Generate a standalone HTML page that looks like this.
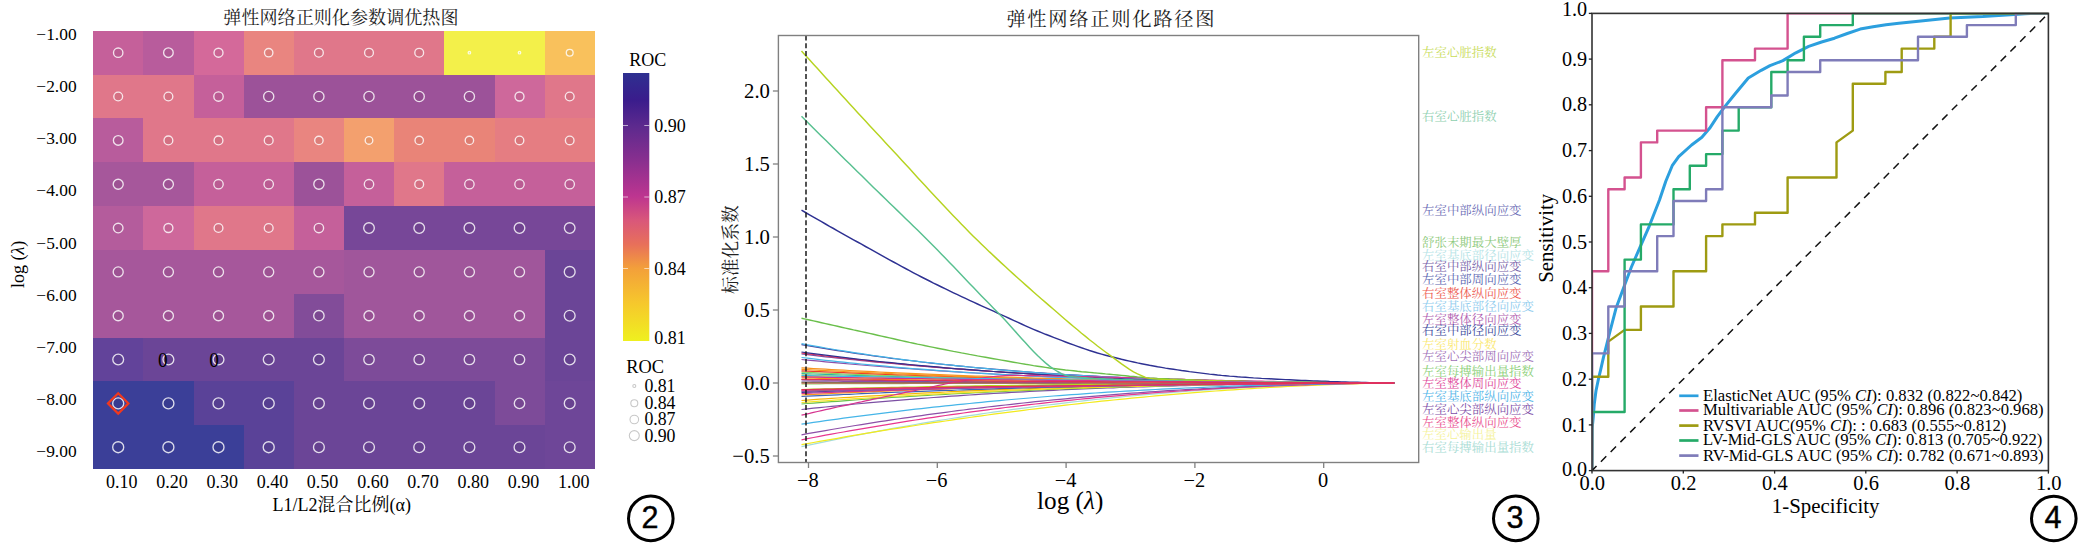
<!DOCTYPE html>
<html lang="zh"><head><meta charset="utf-8"><title>弹性网络正则化</title>
<style>html,body{margin:0;padding:0;background:#fff}svg{display:block}</style></head>
<body><svg width="2079" height="543" viewBox="0 0 2079 543">
<rect width="2079" height="543" fill="#fff"/>
<g shape-rendering="crispEdges">
<rect x="93.30" y="30.80" width="50.77" height="44.43" fill="#c5609a"/>
<rect x="143.47" y="30.80" width="50.77" height="44.43" fill="#b85c9c"/>
<rect x="193.64" y="30.80" width="50.77" height="44.43" fill="#d4699a"/>
<rect x="243.81" y="30.80" width="50.77" height="44.43" fill="#e98580"/>
<rect x="293.98" y="30.80" width="50.77" height="44.43" fill="#e0778a"/>
<rect x="344.15" y="30.80" width="50.77" height="44.43" fill="#e0778a"/>
<rect x="394.32" y="30.80" width="50.77" height="44.43" fill="#e0778a"/>
<rect x="444.49" y="30.80" width="50.77" height="44.43" fill="#f3f04a"/>
<rect x="494.66" y="30.80" width="50.77" height="44.43" fill="#f3f04a"/>
<rect x="544.83" y="30.80" width="50.17" height="44.43" fill="#f9c15c"/>
<rect x="93.30" y="74.63" width="50.77" height="44.43" fill="#e0778a"/>
<rect x="143.47" y="74.63" width="50.77" height="44.43" fill="#e0778a"/>
<rect x="193.64" y="74.63" width="50.77" height="44.43" fill="#c5609a"/>
<rect x="243.81" y="74.63" width="50.77" height="44.43" fill="#9c5299"/>
<rect x="293.98" y="74.63" width="50.77" height="44.43" fill="#9c5299"/>
<rect x="344.15" y="74.63" width="50.77" height="44.43" fill="#9c5299"/>
<rect x="394.32" y="74.63" width="50.77" height="44.43" fill="#9c5299"/>
<rect x="444.49" y="74.63" width="50.77" height="44.43" fill="#9c5299"/>
<rect x="494.66" y="74.63" width="50.77" height="44.43" fill="#ce689b"/>
<rect x="544.83" y="74.63" width="50.17" height="44.43" fill="#e0778a"/>
<rect x="93.30" y="118.46" width="50.77" height="44.43" fill="#b85c9c"/>
<rect x="143.47" y="118.46" width="50.77" height="44.43" fill="#e0778a"/>
<rect x="193.64" y="118.46" width="50.77" height="44.43" fill="#e0778a"/>
<rect x="243.81" y="118.46" width="50.77" height="44.43" fill="#e0778a"/>
<rect x="293.98" y="118.46" width="50.77" height="44.43" fill="#e98580"/>
<rect x="344.15" y="118.46" width="50.77" height="44.43" fill="#f3a06e"/>
<rect x="394.32" y="118.46" width="50.77" height="44.43" fill="#e98478"/>
<rect x="444.49" y="118.46" width="50.77" height="44.43" fill="#e98478"/>
<rect x="494.66" y="118.46" width="50.77" height="44.43" fill="#e57d82"/>
<rect x="544.83" y="118.46" width="50.17" height="44.43" fill="#e57d82"/>
<rect x="93.30" y="162.29" width="50.77" height="44.43" fill="#a6579b"/>
<rect x="143.47" y="162.29" width="50.77" height="44.43" fill="#a6579b"/>
<rect x="193.64" y="162.29" width="50.77" height="44.43" fill="#c5609a"/>
<rect x="243.81" y="162.29" width="50.77" height="44.43" fill="#c5609a"/>
<rect x="293.98" y="162.29" width="50.77" height="44.43" fill="#9c5299"/>
<rect x="344.15" y="162.29" width="50.77" height="44.43" fill="#c5609a"/>
<rect x="394.32" y="162.29" width="50.77" height="44.43" fill="#e0778a"/>
<rect x="444.49" y="162.29" width="50.77" height="44.43" fill="#c5609a"/>
<rect x="494.66" y="162.29" width="50.77" height="44.43" fill="#c5609a"/>
<rect x="544.83" y="162.29" width="50.17" height="44.43" fill="#c5609a"/>
<rect x="93.30" y="206.12" width="50.77" height="44.43" fill="#b45c9c"/>
<rect x="143.47" y="206.12" width="50.77" height="44.43" fill="#ce689b"/>
<rect x="193.64" y="206.12" width="50.77" height="44.43" fill="#e0778a"/>
<rect x="243.81" y="206.12" width="50.77" height="44.43" fill="#e0778a"/>
<rect x="293.98" y="206.12" width="50.77" height="44.43" fill="#c5609a"/>
<rect x="344.15" y="206.12" width="50.77" height="44.43" fill="#774798"/>
<rect x="394.32" y="206.12" width="50.77" height="44.43" fill="#774798"/>
<rect x="444.49" y="206.12" width="50.77" height="44.43" fill="#774798"/>
<rect x="494.66" y="206.12" width="50.77" height="44.43" fill="#774798"/>
<rect x="544.83" y="206.12" width="50.17" height="44.43" fill="#774798"/>
<rect x="93.30" y="249.95" width="50.77" height="44.43" fill="#a6579b"/>
<rect x="143.47" y="249.95" width="50.77" height="44.43" fill="#a6579b"/>
<rect x="193.64" y="249.95" width="50.77" height="44.43" fill="#a6579b"/>
<rect x="243.81" y="249.95" width="50.77" height="44.43" fill="#a6579b"/>
<rect x="293.98" y="249.95" width="50.77" height="44.43" fill="#a6579b"/>
<rect x="344.15" y="249.95" width="50.77" height="44.43" fill="#a0569b"/>
<rect x="394.32" y="249.95" width="50.77" height="44.43" fill="#a0569b"/>
<rect x="444.49" y="249.95" width="50.77" height="44.43" fill="#a0569b"/>
<rect x="494.66" y="249.95" width="50.77" height="44.43" fill="#a0569b"/>
<rect x="544.83" y="249.95" width="50.17" height="44.43" fill="#6b4597"/>
<rect x="93.30" y="293.78" width="50.77" height="44.43" fill="#a6579b"/>
<rect x="143.47" y="293.78" width="50.77" height="44.43" fill="#a6579b"/>
<rect x="193.64" y="293.78" width="50.77" height="44.43" fill="#a6579b"/>
<rect x="243.81" y="293.78" width="50.77" height="44.43" fill="#a6579b"/>
<rect x="293.98" y="293.78" width="50.77" height="44.43" fill="#824c99"/>
<rect x="344.15" y="293.78" width="50.77" height="44.43" fill="#a0569b"/>
<rect x="394.32" y="293.78" width="50.77" height="44.43" fill="#a0569b"/>
<rect x="444.49" y="293.78" width="50.77" height="44.43" fill="#a0569b"/>
<rect x="494.66" y="293.78" width="50.77" height="44.43" fill="#a0569b"/>
<rect x="544.83" y="293.78" width="50.17" height="44.43" fill="#6b4597"/>
<rect x="93.30" y="337.61" width="50.77" height="44.43" fill="#62439a"/>
<rect x="143.47" y="337.61" width="50.77" height="44.43" fill="#6b4597"/>
<rect x="193.64" y="337.61" width="50.77" height="44.43" fill="#6b4597"/>
<rect x="243.81" y="337.61" width="50.77" height="44.43" fill="#6b4597"/>
<rect x="293.98" y="337.61" width="50.77" height="44.43" fill="#6b4597"/>
<rect x="344.15" y="337.61" width="50.77" height="44.43" fill="#7d4b99"/>
<rect x="394.32" y="337.61" width="50.77" height="44.43" fill="#7d4b99"/>
<rect x="444.49" y="337.61" width="50.77" height="44.43" fill="#7d4b99"/>
<rect x="494.66" y="337.61" width="50.77" height="44.43" fill="#7d4b99"/>
<rect x="544.83" y="337.61" width="50.17" height="44.43" fill="#6b4597"/>
<rect x="93.30" y="381.44" width="50.77" height="44.43" fill="#3b3f98"/>
<rect x="143.47" y="381.44" width="50.77" height="44.43" fill="#3b3f98"/>
<rect x="193.64" y="381.44" width="50.77" height="44.43" fill="#5a4298"/>
<rect x="243.81" y="381.44" width="50.77" height="44.43" fill="#5a4298"/>
<rect x="293.98" y="381.44" width="50.77" height="44.43" fill="#6b4597"/>
<rect x="344.15" y="381.44" width="50.77" height="44.43" fill="#6b4597"/>
<rect x="394.32" y="381.44" width="50.77" height="44.43" fill="#6b4597"/>
<rect x="444.49" y="381.44" width="50.77" height="44.43" fill="#6b4597"/>
<rect x="494.66" y="381.44" width="50.77" height="44.43" fill="#7d4b99"/>
<rect x="544.83" y="381.44" width="50.17" height="44.43" fill="#6e4698"/>
<rect x="93.30" y="425.27" width="50.77" height="43.83" fill="#3b3f98"/>
<rect x="143.47" y="425.27" width="50.77" height="43.83" fill="#3b3f98"/>
<rect x="193.64" y="425.27" width="50.77" height="43.83" fill="#3b3f98"/>
<rect x="243.81" y="425.27" width="50.77" height="43.83" fill="#5a4298"/>
<rect x="293.98" y="425.27" width="50.77" height="43.83" fill="#6b4597"/>
<rect x="344.15" y="425.27" width="50.77" height="43.83" fill="#6b4597"/>
<rect x="394.32" y="425.27" width="50.77" height="43.83" fill="#6b4597"/>
<rect x="444.49" y="425.27" width="50.77" height="43.83" fill="#6b4597"/>
<rect x="494.66" y="425.27" width="50.77" height="43.83" fill="#6b4597"/>
<rect x="544.83" y="425.27" width="50.17" height="43.83" fill="#6e4698"/>
</g>
<g fill="#000" fill-opacity="0.05" stroke="#fff" stroke-opacity="0.82" stroke-width="1.35">
<circle cx="118.2" cy="52.7" r="4.7"/>
<circle cx="168.4" cy="52.7" r="4.8"/>
<circle cx="218.5" cy="52.7" r="4.5"/>
<circle cx="268.7" cy="52.7" r="4.2"/>
<circle cx="318.9" cy="52.7" r="4.4"/>
<circle cx="369.0" cy="52.7" r="4.4"/>
<circle cx="419.2" cy="52.7" r="4.4"/>
<circle cx="469.4" cy="52.7" r="1.2"/>
<circle cx="519.5" cy="52.7" r="1.2"/>
<circle cx="569.7" cy="52.7" r="3.4"/>
<circle cx="118.2" cy="96.5" r="4.4"/>
<circle cx="168.4" cy="96.5" r="4.4"/>
<circle cx="218.5" cy="96.5" r="4.7"/>
<circle cx="268.7" cy="96.5" r="5.1"/>
<circle cx="318.9" cy="96.5" r="5.1"/>
<circle cx="369.0" cy="96.5" r="5.1"/>
<circle cx="419.2" cy="96.5" r="5.1"/>
<circle cx="469.4" cy="96.5" r="5.1"/>
<circle cx="519.5" cy="96.5" r="4.5"/>
<circle cx="569.7" cy="96.5" r="4.4"/>
<circle cx="118.2" cy="140.4" r="4.8"/>
<circle cx="168.4" cy="140.4" r="4.4"/>
<circle cx="218.5" cy="140.4" r="4.4"/>
<circle cx="268.7" cy="140.4" r="4.4"/>
<circle cx="318.9" cy="140.4" r="4.2"/>
<circle cx="369.0" cy="140.4" r="3.8"/>
<circle cx="419.2" cy="140.4" r="4.2"/>
<circle cx="469.4" cy="140.4" r="4.2"/>
<circle cx="519.5" cy="140.4" r="4.3"/>
<circle cx="569.7" cy="140.4" r="4.3"/>
<circle cx="118.2" cy="184.2" r="5.0"/>
<circle cx="168.4" cy="184.2" r="5.0"/>
<circle cx="218.5" cy="184.2" r="4.7"/>
<circle cx="268.7" cy="184.2" r="4.7"/>
<circle cx="318.9" cy="184.2" r="5.1"/>
<circle cx="369.0" cy="184.2" r="4.7"/>
<circle cx="419.2" cy="184.2" r="4.4"/>
<circle cx="469.4" cy="184.2" r="4.7"/>
<circle cx="519.5" cy="184.2" r="4.7"/>
<circle cx="569.7" cy="184.2" r="4.7"/>
<circle cx="118.2" cy="228.0" r="4.8"/>
<circle cx="168.4" cy="228.0" r="4.5"/>
<circle cx="218.5" cy="228.0" r="4.4"/>
<circle cx="268.7" cy="228.0" r="4.4"/>
<circle cx="318.9" cy="228.0" r="4.7"/>
<circle cx="369.0" cy="228.0" r="5.3"/>
<circle cx="419.2" cy="228.0" r="5.3"/>
<circle cx="469.4" cy="228.0" r="5.3"/>
<circle cx="519.5" cy="228.0" r="5.3"/>
<circle cx="569.7" cy="228.0" r="5.3"/>
<circle cx="118.2" cy="271.9" r="5.0"/>
<circle cx="168.4" cy="271.9" r="5.0"/>
<circle cx="218.5" cy="271.9" r="5.0"/>
<circle cx="268.7" cy="271.9" r="5.0"/>
<circle cx="318.9" cy="271.9" r="5.0"/>
<circle cx="369.0" cy="271.9" r="5.0"/>
<circle cx="419.2" cy="271.9" r="5.0"/>
<circle cx="469.4" cy="271.9" r="5.0"/>
<circle cx="519.5" cy="271.9" r="5.0"/>
<circle cx="569.7" cy="271.9" r="5.4"/>
<circle cx="118.2" cy="315.7" r="5.0"/>
<circle cx="168.4" cy="315.7" r="5.0"/>
<circle cx="218.5" cy="315.7" r="5.0"/>
<circle cx="268.7" cy="315.7" r="5.0"/>
<circle cx="318.9" cy="315.7" r="5.2"/>
<circle cx="369.0" cy="315.7" r="5.0"/>
<circle cx="419.2" cy="315.7" r="5.0"/>
<circle cx="469.4" cy="315.7" r="5.0"/>
<circle cx="519.5" cy="315.7" r="5.0"/>
<circle cx="569.7" cy="315.7" r="5.4"/>
<circle cx="118.2" cy="359.5" r="5.4"/>
<circle cx="168.4" cy="359.5" r="5.4"/>
<circle cx="218.5" cy="359.5" r="5.4"/>
<circle cx="268.7" cy="359.5" r="5.4"/>
<circle cx="318.9" cy="359.5" r="5.4"/>
<circle cx="369.0" cy="359.5" r="5.2"/>
<circle cx="419.2" cy="359.5" r="5.2"/>
<circle cx="469.4" cy="359.5" r="5.2"/>
<circle cx="519.5" cy="359.5" r="5.2"/>
<circle cx="569.7" cy="359.5" r="5.4"/>
<circle cx="118.2" cy="403.4" r="5.5"/>
<circle cx="168.4" cy="403.4" r="5.5"/>
<circle cx="218.5" cy="403.4" r="5.5"/>
<circle cx="268.7" cy="403.4" r="5.5"/>
<circle cx="318.9" cy="403.4" r="5.4"/>
<circle cx="369.0" cy="403.4" r="5.4"/>
<circle cx="419.2" cy="403.4" r="5.4"/>
<circle cx="469.4" cy="403.4" r="5.4"/>
<circle cx="519.5" cy="403.4" r="5.2"/>
<circle cx="569.7" cy="403.4" r="5.4"/>
<circle cx="118.2" cy="447.2" r="5.5"/>
<circle cx="168.4" cy="447.2" r="5.5"/>
<circle cx="218.5" cy="447.2" r="5.5"/>
<circle cx="268.7" cy="447.2" r="5.5"/>
<circle cx="318.9" cy="447.2" r="5.4"/>
<circle cx="369.0" cy="447.2" r="5.4"/>
<circle cx="419.2" cy="447.2" r="5.4"/>
<circle cx="469.4" cy="447.2" r="5.4"/>
<circle cx="519.5" cy="447.2" r="5.4"/>
<circle cx="569.7" cy="447.2" r="5.4"/>
</g>
<text x="162.8" y="366.5" font-family='"Liberation Serif", "Noto Serif CJK SC", serif' font-size="21" text-anchor="middle" textLength="9.6" lengthAdjust="spacingAndGlyphs">0</text>
<text x="214.1" y="366.5" font-family='"Liberation Serif", "Noto Serif CJK SC", serif' font-size="21" text-anchor="middle" textLength="9.6" lengthAdjust="spacingAndGlyphs">0</text>
<path d="M108.0 403.4 L118.2 393.2 L128.4 403.4 L118.2 413.6 Z" fill="none" stroke="#f0381e" stroke-width="2.2"/>
<g font-family='"Liberation Serif", "Noto Serif CJK SC", serif' fill="#000">
<text x="340.9" y="23.6" font-size="18.1" text-anchor="middle" fill="#222">弹性网络正则化参数调优热图</text>
<text x="76.6" y="40.2" font-size="17.4" text-anchor="end">−1.00</text>
<text x="76.6" y="92.3" font-size="17.4" text-anchor="end">−2.00</text>
<text x="76.6" y="144.4" font-size="17.4" text-anchor="end">−3.00</text>
<text x="76.6" y="196.4" font-size="17.4" text-anchor="end">−4.00</text>
<text x="76.6" y="248.5" font-size="17.4" text-anchor="end">−5.00</text>
<text x="76.6" y="300.6" font-size="17.4" text-anchor="end">−6.00</text>
<text x="76.6" y="352.7" font-size="17.4" text-anchor="end">−7.00</text>
<text x="76.6" y="404.8" font-size="17.4" text-anchor="end">−8.00</text>
<text x="76.6" y="456.8" font-size="17.4" text-anchor="end">−9.00</text>
<text x="121.7" y="488.3" font-size="18" text-anchor="middle">0.10</text>
<text x="171.9" y="488.3" font-size="18" text-anchor="middle">0.20</text>
<text x="222.2" y="488.3" font-size="18" text-anchor="middle">0.30</text>
<text x="272.4" y="488.3" font-size="18" text-anchor="middle">0.40</text>
<text x="322.6" y="488.3" font-size="18" text-anchor="middle">0.50</text>
<text x="372.9" y="488.3" font-size="18" text-anchor="middle">0.60</text>
<text x="423.1" y="488.3" font-size="18" text-anchor="middle">0.70</text>
<text x="473.3" y="488.3" font-size="18" text-anchor="middle">0.80</text>
<text x="523.6" y="488.3" font-size="18" text-anchor="middle">0.90</text>
<text x="573.8" y="488.3" font-size="18" text-anchor="middle">1.00</text>
<text x="341.8" y="510.5" font-size="18" text-anchor="middle">L1/L2混合比例(α)</text>
<text transform="translate(24.3 264.4) rotate(-90)" font-size="18" text-anchor="middle">log (<tspan font-style="italic">λ</tspan>)</text>
<text x="629.3" y="66" font-size="18">ROC</text>
<text x="654.3" y="131.5" font-size="18">0.90</text>
<text x="654.3" y="203.0" font-size="18">0.87</text>
<text x="654.3" y="274.5" font-size="18">0.84</text>
<text x="654.3" y="343.5" font-size="18">0.81</text>
<text x="626.2" y="373" font-size="18.4">ROC</text>
<text x="644.4" y="392.0" font-size="17.8">0.81</text>
<text x="644.4" y="409.0" font-size="17.8">0.84</text>
<text x="644.4" y="425.3" font-size="17.8">0.87</text>
<text x="644.4" y="441.5" font-size="17.8">0.90</text>
</g>
<defs><linearGradient id="cb" x1="0" y1="0" x2="0" y2="1">
<stop offset="0" stop-color="#2e3090"/>
<stop offset="0.10" stop-color="#3a1c8c"/>
<stop offset="0.20" stop-color="#5d2a8e"/>
<stop offset="0.33" stop-color="#8a2f8f"/>
<stop offset="0.46" stop-color="#bd3590"/>
<stop offset="0.55" stop-color="#d9577a"/>
<stop offset="0.64" stop-color="#e8705a"/>
<stop offset="0.73" stop-color="#f3a03a"/>
<stop offset="0.86" stop-color="#f6c82c"/>
<stop offset="1" stop-color="#eff01f"/>
</linearGradient></defs>
<rect x="623" y="73" width="26.3" height="268" fill="url(#cb)"/>
<g stroke="#fff" stroke-opacity="0.6" stroke-width="1">
<path d="M623 125.5h5M644.3 125.5h5"/>
<path d="M623 197h5M644.3 197h5"/>
<path d="M623 268.5h5M644.3 268.5h5"/>
</g>
<g fill="none" stroke="#c8c8c8" stroke-width="1.1">
<circle cx="634.3" cy="386" r="1.5"/>
<circle cx="634.3" cy="403.3" r="3.5"/>
<circle cx="634.3" cy="419.5" r="4.3"/>
<circle cx="634.3" cy="435.6" r="5.0"/>
</g>
<circle cx="650.8" cy="518.4" r="22.3" fill="#fff" stroke="#000" stroke-width="3"/>
<text x="649.9" y="528.0" font-family='"Liberation Sans", sans-serif' font-size="30.6" text-anchor="middle" fill="#000" stroke="#000" stroke-width="0.4">2</text>
<circle cx="1515.8" cy="518.4" r="22.3" fill="#fff" stroke="#000" stroke-width="3"/>
<text x="1514.9" y="528.0" font-family='"Liberation Sans", sans-serif' font-size="30.6" text-anchor="middle" fill="#000" stroke="#000" stroke-width="0.4">3</text>
<circle cx="2053.8" cy="518.5" r="22.3" fill="#fff" stroke="#000" stroke-width="3"/>
<text x="2052.9" y="528.1" font-family='"Liberation Sans", sans-serif' font-size="30.6" text-anchor="middle" fill="#000" stroke="#000" stroke-width="0.4">4</text>
<g fill="none" stroke-width="1.2" stroke-linejoin="round">
<path d="M801.5 446.7 L807.5 445.4 L813.5 444.1 L819.5 442.9 L825.5 441.6 L831.5 440.4 L837.5 439.1 L843.5 437.9 L849.5 436.7 L855.5 435.5 L861.5 434.4 L867.5 433.2 L873.5 432.1 L879.5 430.9 L885.5 429.8 L891.5 428.7 L897.5 427.6 L903.5 426.6 L909.5 425.5 L915.5 424.5 L921.5 423.4 L927.5 422.4 L933.5 421.4 L939.5 420.4 L945.5 419.5 L951.5 418.5 L957.5 417.6 L963.5 416.6 L969.5 415.7 L975.5 414.8 L981.5 413.9 L987.5 413.0 L993.5 412.2 L999.5 411.3 L1005.5 410.5 L1011.5 409.7 L1017.5 408.9 L1023.5 408.1 L1029.5 407.3 L1035.5 406.5 L1041.5 405.7 L1047.5 405.0 L1053.5 404.3 L1059.5 403.6 L1065.5 402.9 L1071.5 402.2 L1077.5 401.5 L1083.5 400.8 L1089.5 400.2 L1095.5 399.5 L1101.5 398.9 L1107.5 398.3 L1113.5 397.7 L1119.5 397.1 L1125.5 396.5 L1131.5 396.0 L1137.5 395.4 L1143.5 394.9 L1149.5 394.4 L1155.5 393.8 L1161.5 393.4 L1167.5 392.9 L1173.5 392.4 L1179.5 391.9 L1185.5 391.5 L1191.5 391.0 L1197.5 390.6 L1203.5 390.2 L1209.5 389.8 L1215.5 389.4 L1221.5 389.0 L1227.5 388.7 L1233.5 388.3 L1239.5 388.0 L1245.5 387.7 L1251.5 387.3 L1257.5 387.0 L1263.5 386.7 L1269.5 386.5 L1275.5 386.2 L1281.5 385.9 L1287.5 385.7 L1293.5 385.4 L1299.5 385.2 L1305.5 385.0 L1311.5 384.8 L1317.5 384.6 L1323.5 384.4 L1329.5 384.3 L1335.5 384.1 L1341.5 383.9 L1347.5 383.8 L1353.5 383.7 L1359.5 383.5 L1365.5 383.4 L1371.5 383.3 L1377.5 383.2 L1383.5 383.1 L1389.5 383.1 L1394.3 383.0" stroke="#a5dcd8"/>
<path d="M801.5 444.7 L807.5 443.6 L813.5 442.5 L819.5 441.4 L825.5 440.4 L831.5 439.3 L837.5 438.3 L843.5 437.2 L849.5 436.2 L855.5 435.2 L861.5 434.2 L867.5 433.2 L873.5 432.2 L879.5 431.2 L885.5 430.2 L891.5 429.2 L897.5 428.3 L903.5 427.3 L909.5 426.4 L915.5 425.5 L921.5 424.5 L927.5 423.6 L933.5 422.7 L939.5 421.8 L945.5 421.0 L951.5 420.1 L957.5 419.2 L963.5 418.4 L969.5 417.5 L975.5 416.7 L981.5 415.8 L987.5 415.0 L993.5 414.2 L999.5 413.4 L1005.5 412.6 L1011.5 411.8 L1017.5 411.1 L1023.5 410.3 L1029.5 409.5 L1035.5 408.8 L1041.5 408.1 L1047.5 407.3 L1053.5 406.6 L1059.5 405.9 L1065.5 405.2 L1071.5 404.5 L1077.5 403.9 L1083.5 403.2 L1089.5 402.5 L1095.5 401.9 L1101.5 401.2 L1107.5 400.6 L1113.5 400.0 L1119.5 399.4 L1125.5 398.8 L1131.5 398.2 L1137.5 397.6 L1143.5 397.1 L1149.5 396.5 L1155.5 395.9 L1161.5 395.4 L1167.5 394.9 L1173.5 394.4 L1179.5 393.9 L1185.5 393.4 L1191.5 392.9 L1197.5 392.4 L1203.5 391.9 L1209.5 391.5 L1215.5 391.0 L1221.5 390.6 L1227.5 390.2 L1233.5 389.8 L1239.5 389.4 L1245.5 389.0 L1251.5 388.6 L1257.5 388.2 L1263.5 387.9 L1269.5 387.5 L1275.5 387.2 L1281.5 386.8 L1287.5 386.5 L1293.5 386.2 L1299.5 385.9 L1305.5 385.7 L1311.5 385.4 L1317.5 385.1 L1323.5 384.9 L1329.5 384.7 L1335.5 384.4 L1341.5 384.2 L1347.5 384.0 L1353.5 383.9 L1359.5 383.7 L1365.5 383.5 L1371.5 383.4 L1377.5 383.3 L1383.5 383.2 L1389.5 383.1 L1394.3 383.0" stroke="#f2ea1d"/>
<path d="M801.5 439.8 L807.5 438.6 L813.5 437.5 L819.5 436.4 L825.5 435.2 L831.5 434.1 L837.5 433.0 L843.5 432.0 L849.5 430.9 L855.5 429.8 L861.5 428.8 L867.5 427.8 L873.5 426.8 L879.5 425.8 L885.5 424.8 L891.5 423.8 L897.5 422.8 L903.5 421.9 L909.5 420.9 L915.5 420.0 L921.5 419.1 L927.5 418.2 L933.5 417.3 L939.5 416.4 L945.5 415.5 L951.5 414.7 L957.5 413.8 L963.5 413.0 L969.5 412.2 L975.5 411.4 L981.5 410.6 L987.5 409.8 L993.5 409.0 L999.5 408.3 L1005.5 407.5 L1011.5 406.8 L1017.5 406.1 L1023.5 405.3 L1029.5 404.6 L1035.5 404.0 L1041.5 403.3 L1047.5 402.6 L1053.5 402.0 L1059.5 401.3 L1065.5 400.7 L1071.5 400.1 L1077.5 399.5 L1083.5 398.9 L1089.5 398.3 L1095.5 397.7 L1101.5 397.2 L1107.5 396.6 L1113.5 396.1 L1119.5 395.6 L1125.5 395.1 L1131.5 394.6 L1137.5 394.1 L1143.5 393.6 L1149.5 393.1 L1155.5 392.7 L1161.5 392.2 L1167.5 391.8 L1173.5 391.4 L1179.5 391.0 L1185.5 390.6 L1191.5 390.2 L1197.5 389.8 L1203.5 389.4 L1209.5 389.1 L1215.5 388.7 L1221.5 388.4 L1227.5 388.1 L1233.5 387.8 L1239.5 387.4 L1245.5 387.2 L1251.5 386.9 L1257.5 386.6 L1263.5 386.3 L1269.5 386.1 L1275.5 385.8 L1281.5 385.6 L1287.5 385.4 L1293.5 385.2 L1299.5 385.0 L1305.5 384.8 L1311.5 384.6 L1317.5 384.4 L1323.5 384.3 L1329.5 384.1 L1335.5 384.0 L1341.5 383.8 L1347.5 383.7 L1353.5 383.6 L1359.5 383.5 L1365.5 383.4 L1371.5 383.3 L1377.5 383.2 L1383.5 383.1 L1389.5 383.1 L1394.3 383.0" stroke="#e8368f"/>
<path d="M801.5 434.8 L807.5 433.7 L813.5 432.7 L819.5 431.6 L825.5 430.6 L831.5 429.5 L837.5 428.5 L843.5 427.5 L849.5 426.5 L855.5 425.5 L861.5 424.6 L867.5 423.6 L873.5 422.7 L879.5 421.7 L885.5 420.8 L891.5 419.9 L897.5 419.0 L903.5 418.1 L909.5 417.3 L915.5 416.4 L921.5 415.6 L927.5 414.7 L933.5 413.9 L939.5 413.1 L945.5 412.3 L951.5 411.5 L957.5 410.7 L963.5 410.0 L969.5 409.2 L975.5 408.5 L981.5 407.8 L987.5 407.0 L993.5 406.3 L999.5 405.6 L1005.5 405.0 L1011.5 404.3 L1017.5 403.6 L1023.5 403.0 L1029.5 402.3 L1035.5 401.7 L1041.5 401.1 L1047.5 400.5 L1053.5 399.9 L1059.5 399.3 L1065.5 398.8 L1071.5 398.2 L1077.5 397.7 L1083.5 397.1 L1089.5 396.6 L1095.5 396.1 L1101.5 395.6 L1107.5 395.1 L1113.5 394.6 L1119.5 394.1 L1125.5 393.7 L1131.5 393.2 L1137.5 392.8 L1143.5 392.4 L1149.5 391.9 L1155.5 391.5 L1161.5 391.1 L1167.5 390.7 L1173.5 390.4 L1179.5 390.0 L1185.5 389.6 L1191.5 389.3 L1197.5 389.0 L1203.5 388.6 L1209.5 388.3 L1215.5 388.0 L1221.5 387.7 L1227.5 387.4 L1233.5 387.2 L1239.5 386.9 L1245.5 386.6 L1251.5 386.4 L1257.5 386.1 L1263.5 385.9 L1269.5 385.7 L1275.5 385.5 L1281.5 385.3 L1287.5 385.1 L1293.5 384.9 L1299.5 384.7 L1305.5 384.6 L1311.5 384.4 L1317.5 384.3 L1323.5 384.1 L1329.5 384.0 L1335.5 383.9 L1341.5 383.7 L1347.5 383.6 L1353.5 383.5 L1359.5 383.4 L1365.5 383.3 L1371.5 383.3 L1377.5 383.2 L1383.5 383.1 L1389.5 383.0 L1394.3 383.0" stroke="#8d4fa8"/>
<path d="M801.5 424.2 L807.5 423.3 L813.5 422.4 L819.5 421.6 L825.5 420.7 L831.5 419.9 L837.5 419.1 L843.5 418.2 L849.5 417.4 L855.5 416.6 L861.5 415.9 L867.5 415.1 L873.5 414.3 L879.5 413.6 L885.5 412.8 L891.5 412.1 L897.5 411.4 L903.5 410.6 L909.5 409.9 L915.5 409.2 L921.5 408.6 L927.5 407.9 L933.5 407.2 L939.5 406.6 L945.5 405.9 L951.5 405.3 L957.5 404.7 L963.5 404.1 L969.5 403.5 L975.5 402.9 L981.5 402.3 L987.5 401.7 L993.5 401.1 L999.5 400.6 L1005.5 400.0 L1011.5 399.5 L1017.5 399.0 L1023.5 398.5 L1029.5 398.0 L1035.5 397.5 L1041.5 397.0 L1047.5 396.5 L1053.5 396.0 L1059.5 395.6 L1065.5 395.1 L1071.5 394.7 L1077.5 394.3 L1083.5 393.8 L1089.5 393.4 L1095.5 393.0 L1101.5 392.6 L1107.5 392.2 L1113.5 391.9 L1119.5 391.5 L1125.5 391.1 L1131.5 390.8 L1137.5 390.5 L1143.5 390.1 L1149.5 389.8 L1155.5 389.5 L1161.5 389.2 L1167.5 388.9 L1173.5 388.6 L1179.5 388.3 L1185.5 388.0 L1191.5 387.8 L1197.5 387.5 L1203.5 387.3 L1209.5 387.0 L1215.5 386.8 L1221.5 386.6 L1227.5 386.3 L1233.5 386.1 L1239.5 385.9 L1245.5 385.7 L1251.5 385.5 L1257.5 385.4 L1263.5 385.2 L1269.5 385.0 L1275.5 384.9 L1281.5 384.7 L1287.5 384.6 L1293.5 384.4 L1299.5 384.3 L1305.5 384.2 L1311.5 384.1 L1317.5 383.9 L1323.5 383.8 L1329.5 383.7 L1335.5 383.6 L1341.5 383.6 L1347.5 383.5 L1353.5 383.4 L1359.5 383.3 L1365.5 383.3 L1371.5 383.2 L1377.5 383.1 L1383.5 383.1 L1389.5 383.0 L1394.3 383.0" stroke="#45b5e8"/>
<path d="M801.5 409.5 L807.5 408.9 L813.5 408.2 L819.5 407.6 L825.5 407.0 L831.5 406.4 L837.5 405.8 L843.5 405.2 L849.5 404.6 L855.5 404.0 L861.5 403.5 L867.5 402.9 L873.5 402.4 L879.5 401.9 L885.5 401.4 L891.5 400.8 L897.5 400.3 L903.5 399.8 L909.5 399.4 L915.5 398.9 L921.5 398.4 L927.5 398.0 L933.5 397.5 L939.5 397.1 L945.5 396.6 L951.5 396.2 L957.5 395.8 L963.5 395.4 L969.5 395.0 L975.5 394.6 L981.5 394.2 L987.5 393.9 L993.5 393.5 L999.5 393.1 L1005.5 392.8 L1011.5 392.4 L1017.5 392.1 L1023.5 391.8 L1029.5 391.5 L1035.5 391.2 L1041.5 390.9 L1047.5 390.6 L1053.5 390.3 L1059.5 390.0 L1065.5 389.7 L1071.5 389.4 L1077.5 389.2 L1083.5 388.9 L1089.5 388.7 L1095.5 388.4 L1101.5 388.2 L1107.5 388.0 L1113.5 387.8 L1119.5 387.5 L1125.5 387.3 L1131.5 387.1 L1137.5 386.9 L1143.5 386.8 L1149.5 386.6 L1155.5 386.4 L1161.5 386.2 L1167.5 386.1 L1173.5 385.9 L1179.5 385.7 L1185.5 385.6 L1191.5 385.4 L1197.5 385.3 L1203.5 385.2 L1209.5 385.0 L1215.5 384.9 L1221.5 384.8 L1227.5 384.7 L1233.5 384.6 L1239.5 384.5 L1245.5 384.4 L1251.5 384.3 L1257.5 384.2 L1263.5 384.1 L1269.5 384.0 L1275.5 383.9 L1281.5 383.9 L1287.5 383.8 L1293.5 383.7 L1299.5 383.7 L1305.5 383.6 L1311.5 383.5 L1317.5 383.5 L1323.5 383.4 L1329.5 383.4 L1335.5 383.3 L1341.5 383.3 L1347.5 383.3 L1353.5 383.2 L1359.5 383.2 L1365.5 383.2 L1371.5 383.1 L1377.5 383.1 L1383.5 383.1 L1389.5 383.0 L1394.3 383.0" stroke="#7c4fa3"/>
<path d="M801.5 404.0 L807.5 403.5 L813.5 403.1 L819.5 402.6 L825.5 402.1 L831.5 401.7 L837.5 401.3 L843.5 400.8 L849.5 400.4 L855.5 400.0 L861.5 399.5 L867.5 399.1 L873.5 398.7 L879.5 398.3 L885.5 397.9 L891.5 397.5 L897.5 397.2 L903.5 396.8 L909.5 396.4 L915.5 396.1 L921.5 395.7 L927.5 395.4 L933.5 395.0 L939.5 394.7 L945.5 394.3 L951.5 394.0 L957.5 393.7 L963.5 393.4 L969.5 393.1 L975.5 392.7 L981.5 392.5 L987.5 392.2 L993.5 391.9 L999.5 391.6 L1005.5 391.3 L1011.5 391.0 L1017.5 390.8 L1023.5 390.5 L1029.5 390.3 L1035.5 390.0 L1041.5 389.8 L1047.5 389.5 L1053.5 389.3 L1059.5 389.0 L1065.5 388.8 L1071.5 388.6 L1077.5 388.4 L1083.5 388.2 L1089.5 388.0 L1095.5 387.8 L1101.5 387.6 L1107.5 387.4 L1113.5 387.2 L1119.5 387.0 L1125.5 386.8 L1131.5 386.7 L1137.5 386.5 L1143.5 386.3 L1149.5 386.2 L1155.5 386.0 L1161.5 385.9 L1167.5 385.7 L1173.5 385.6 L1179.5 385.5 L1185.5 385.3 L1191.5 385.2 L1197.5 385.1 L1203.5 385.0 L1209.5 384.9 L1215.5 384.7 L1221.5 384.6 L1227.5 384.5 L1233.5 384.4 L1239.5 384.3 L1245.5 384.3 L1251.5 384.2 L1257.5 384.1 L1263.5 384.0 L1269.5 383.9 L1275.5 383.9 L1281.5 383.8 L1287.5 383.7 L1293.5 383.7 L1299.5 383.6 L1305.5 383.5 L1311.5 383.5 L1317.5 383.4 L1323.5 383.4 L1329.5 383.3 L1335.5 383.3 L1341.5 383.3 L1347.5 383.2 L1353.5 383.2 L1359.5 383.2 L1365.5 383.1 L1371.5 383.1 L1377.5 383.1 L1383.5 383.0 L1389.5 383.0 L1394.3 383.0" stroke="#6abf4b"/>
<path d="M801.5 402.5 L807.5 402.1 L813.5 401.6 L819.5 401.2 L825.5 400.8 L831.5 400.4 L837.5 399.9 L843.5 399.5 L849.5 399.1 L855.5 398.7 L861.5 398.4 L867.5 398.0 L873.5 397.6 L879.5 397.2 L885.5 396.9 L891.5 396.5 L897.5 396.2 L903.5 395.8 L909.5 395.5 L915.5 395.1 L921.5 394.8 L927.5 394.5 L933.5 394.1 L939.5 393.8 L945.5 393.5 L951.5 393.2 L957.5 392.9 L963.5 392.6 L969.5 392.3 L975.5 392.1 L981.5 391.8 L987.5 391.5 L993.5 391.2 L999.5 391.0 L1005.5 390.7 L1011.5 390.5 L1017.5 390.2 L1023.5 390.0 L1029.5 389.7 L1035.5 389.5 L1041.5 389.3 L1047.5 389.0 L1053.5 388.8 L1059.5 388.6 L1065.5 388.4 L1071.5 388.2 L1077.5 388.0 L1083.5 387.8 L1089.5 387.6 L1095.5 387.4 L1101.5 387.3 L1107.5 387.1 L1113.5 386.9 L1119.5 386.7 L1125.5 386.6 L1131.5 386.4 L1137.5 386.3 L1143.5 386.1 L1149.5 386.0 L1155.5 385.8 L1161.5 385.7 L1167.5 385.6 L1173.5 385.4 L1179.5 385.3 L1185.5 385.2 L1191.5 385.1 L1197.5 384.9 L1203.5 384.8 L1209.5 384.7 L1215.5 384.6 L1221.5 384.5 L1227.5 384.4 L1233.5 384.3 L1239.5 384.3 L1245.5 384.2 L1251.5 384.1 L1257.5 384.0 L1263.5 383.9 L1269.5 383.9 L1275.5 383.8 L1281.5 383.7 L1287.5 383.7 L1293.5 383.6 L1299.5 383.6 L1305.5 383.5 L1311.5 383.5 L1317.5 383.4 L1323.5 383.4 L1329.5 383.3 L1335.5 383.3 L1341.5 383.2 L1347.5 383.2 L1353.5 383.2 L1359.5 383.1 L1365.5 383.1 L1371.5 383.1 L1377.5 383.1 L1383.5 383.0 L1389.5 383.0 L1394.3 383.0" stroke="#f4e628"/>
<path d="M801.5 400.5 L807.5 400.1 L813.5 399.7 L819.5 399.2 L825.5 398.8 L831.5 398.4 L837.5 398.0 L843.5 397.7 L849.5 397.3 L855.5 396.9 L861.5 396.5 L867.5 396.2 L873.5 395.8 L879.5 395.5 L885.5 395.1 L891.5 394.8 L897.5 394.5 L903.5 394.1 L909.5 393.8 L915.5 393.5 L921.5 393.2 L927.5 392.9 L933.5 392.6 L939.5 392.3 L945.5 392.0 L951.5 391.7 L957.5 391.5 L963.5 391.2 L969.5 390.9 L975.5 390.7 L981.5 390.4 L987.5 390.2 L993.5 389.9 L999.5 389.7 L1005.5 389.5 L1011.5 389.2 L1017.5 389.0 L1023.5 388.8 L1029.5 388.6 L1035.5 388.4 L1041.5 388.2 L1047.5 388.0 L1053.5 387.8 L1059.5 387.6 L1065.5 387.4 L1071.5 387.3 L1077.5 387.1 L1083.5 386.9 L1089.5 386.8 L1095.5 386.6 L1101.5 386.4 L1107.5 386.3 L1113.5 386.1 L1119.5 386.0 L1125.5 385.9 L1131.5 385.7 L1137.5 385.6 L1143.5 385.5 L1149.5 385.4 L1155.5 385.2 L1161.5 385.1 L1167.5 385.0 L1173.5 384.9 L1179.5 384.8 L1185.5 384.7 L1191.5 384.6 L1197.5 384.5 L1203.5 384.4 L1209.5 384.4 L1215.5 384.3 L1221.5 384.2 L1227.5 384.1 L1233.5 384.0 L1239.5 384.0 L1245.5 383.9 L1251.5 383.8 L1257.5 383.8 L1263.5 383.7 L1269.5 383.7 L1275.5 383.6 L1281.5 383.6 L1287.5 383.5 L1293.5 383.5 L1299.5 383.4 L1305.5 383.4 L1311.5 383.4 L1317.5 383.3 L1323.5 383.3 L1329.5 383.3 L1335.5 383.2 L1341.5 383.2 L1347.5 383.2 L1353.5 383.1 L1359.5 383.1 L1365.5 383.1 L1371.5 383.1 L1377.5 383.1 L1383.5 383.0 L1389.5 383.0 L1394.3 383.0" stroke="#f7b500"/>
<path d="M801.5 396.5 L807.5 396.2 L813.5 395.9 L819.5 395.6 L825.5 395.4 L831.5 395.1 L837.5 394.8 L843.5 394.5 L849.5 394.3 L855.5 394.0 L861.5 393.7 L867.5 393.5 L873.5 393.2 L879.5 393.0 L885.5 392.7 L891.5 392.5 L897.5 392.2 L903.5 392.0 L909.5 391.8 L915.5 391.6 L921.5 391.3 L927.5 391.1 L933.5 390.9 L939.5 390.7 L945.5 390.5 L951.5 390.3 L957.5 390.0 L963.5 389.8 L969.5 389.6 L975.5 389.5 L981.5 389.3 L987.5 389.1 L993.5 388.9 L999.5 388.7 L1005.5 388.5 L1011.5 388.4 L1017.5 388.2 L1023.5 388.0 L1029.5 387.8 L1035.5 387.7 L1041.5 387.5 L1047.5 387.4 L1053.5 387.2 L1059.5 387.1 L1065.5 386.9 L1071.5 386.8 L1077.5 386.6 L1083.5 386.5 L1089.5 386.4 L1095.5 386.2 L1101.5 386.1 L1107.5 386.0 L1113.5 385.9 L1119.5 385.7 L1125.5 385.6 L1131.5 385.5 L1137.5 385.4 L1143.5 385.3 L1149.5 385.2 L1155.5 385.1 L1161.5 385.0 L1167.5 384.9 L1173.5 384.8 L1179.5 384.7 L1185.5 384.6 L1191.5 384.5 L1197.5 384.4 L1203.5 384.4 L1209.5 384.3 L1215.5 384.2 L1221.5 384.1 L1227.5 384.1 L1233.5 384.0 L1239.5 383.9 L1245.5 383.9 L1251.5 383.8 L1257.5 383.8 L1263.5 383.7 L1269.5 383.6 L1275.5 383.6 L1281.5 383.5 L1287.5 383.5 L1293.5 383.5 L1299.5 383.4 L1305.5 383.4 L1311.5 383.3 L1317.5 383.3 L1323.5 383.3 L1329.5 383.2 L1335.5 383.2 L1341.5 383.2 L1347.5 383.2 L1353.5 383.1 L1359.5 383.1 L1365.5 383.1 L1371.5 383.1 L1377.5 383.0 L1383.5 383.0 L1389.5 383.0 L1394.3 383.0" stroke="#3b66b5"/>
<path d="M801.5 395.0 L807.5 394.7 L813.5 394.4 L819.5 394.1 L825.5 393.8 L831.5 393.5 L837.5 393.2 L843.5 392.9 L849.5 392.6 L855.5 392.4 L861.5 392.1 L867.5 391.8 L873.5 391.6 L879.5 391.3 L885.5 391.1 L891.5 390.9 L897.5 390.6 L903.5 390.4 L909.5 390.2 L915.5 389.9 L921.5 389.7 L927.5 389.5 L933.5 389.3 L939.5 389.1 L945.5 388.9 L951.5 388.7 L957.5 388.5 L963.5 388.3 L969.5 388.1 L975.5 388.0 L981.5 387.8 L987.5 387.6 L993.5 387.5 L999.5 387.3 L1005.5 387.1 L1011.5 387.0 L1017.5 386.8 L1023.5 386.7 L1029.5 386.6 L1035.5 386.4 L1041.5 386.3 L1047.5 386.2 L1053.5 386.0 L1059.5 385.9 L1065.5 385.8 L1071.5 385.7 L1077.5 385.6 L1083.5 385.4 L1089.5 385.3 L1095.5 385.2 L1101.5 385.1 L1107.5 385.0 L1113.5 384.9 L1119.5 384.9 L1125.5 384.8 L1131.5 384.7 L1137.5 384.6 L1143.5 384.5 L1149.5 384.4 L1155.5 384.4 L1161.5 384.3 L1167.5 384.2 L1173.5 384.2 L1179.5 384.1 L1185.5 384.0 L1191.5 384.0 L1197.5 383.9 L1203.5 383.9 L1209.5 383.8 L1215.5 383.8 L1221.5 383.7 L1227.5 383.7 L1233.5 383.6 L1239.5 383.6 L1245.5 383.6 L1251.5 383.5 L1257.5 383.5 L1263.5 383.4 L1269.5 383.4 L1275.5 383.4 L1281.5 383.4 L1287.5 383.3 L1293.5 383.3 L1299.5 383.3 L1305.5 383.3 L1311.5 383.2 L1317.5 383.2 L1323.5 383.2 L1329.5 383.2 L1335.5 383.1 L1341.5 383.1 L1347.5 383.1 L1353.5 383.1 L1359.5 383.1 L1365.5 383.1 L1371.5 383.1 L1377.5 383.0 L1383.5 383.0 L1389.5 383.0 L1394.3 383.0" stroke="#f7941d"/>
<path d="M801.5 393.5 L807.5 393.3 L813.5 393.0 L819.5 392.8 L825.5 392.6 L831.5 392.3 L837.5 392.1 L843.5 391.9 L849.5 391.7 L855.5 391.5 L861.5 391.3 L867.5 391.1 L873.5 390.9 L879.5 390.7 L885.5 390.5 L891.5 390.3 L897.5 390.1 L903.5 389.9 L909.5 389.7 L915.5 389.5 L921.5 389.4 L927.5 389.2 L933.5 389.0 L939.5 388.8 L945.5 388.7 L951.5 388.5 L957.5 388.3 L963.5 388.2 L969.5 388.0 L975.5 387.9 L981.5 387.7 L987.5 387.6 L993.5 387.4 L999.5 387.3 L1005.5 387.2 L1011.5 387.0 L1017.5 386.9 L1023.5 386.8 L1029.5 386.6 L1035.5 386.5 L1041.5 386.4 L1047.5 386.3 L1053.5 386.1 L1059.5 386.0 L1065.5 385.9 L1071.5 385.8 L1077.5 385.7 L1083.5 385.6 L1089.5 385.5 L1095.5 385.4 L1101.5 385.3 L1107.5 385.2 L1113.5 385.1 L1119.5 385.0 L1125.5 384.9 L1131.5 384.8 L1137.5 384.8 L1143.5 384.7 L1149.5 384.6 L1155.5 384.5 L1161.5 384.4 L1167.5 384.4 L1173.5 384.3 L1179.5 384.2 L1185.5 384.2 L1191.5 384.1 L1197.5 384.0 L1203.5 384.0 L1209.5 383.9 L1215.5 383.9 L1221.5 383.8 L1227.5 383.8 L1233.5 383.7 L1239.5 383.7 L1245.5 383.6 L1251.5 383.6 L1257.5 383.5 L1263.5 383.5 L1269.5 383.5 L1275.5 383.4 L1281.5 383.4 L1287.5 383.4 L1293.5 383.3 L1299.5 383.3 L1305.5 383.3 L1311.5 383.2 L1317.5 383.2 L1323.5 383.2 L1329.5 383.2 L1335.5 383.2 L1341.5 383.1 L1347.5 383.1 L1353.5 383.1 L1359.5 383.1 L1365.5 383.1 L1371.5 383.0 L1377.5 383.0 L1383.5 383.0 L1389.5 383.0 L1394.3 383.0" stroke="#d6338f"/>
<path d="M801.5 392.5 L807.5 392.2 L813.5 392.0 L819.5 391.7 L825.5 391.5 L831.5 391.2 L837.5 391.0 L843.5 390.8 L849.5 390.5 L855.5 390.3 L861.5 390.1 L867.5 389.9 L873.5 389.7 L879.5 389.4 L885.5 389.2 L891.5 389.0 L897.5 388.9 L903.5 388.7 L909.5 388.5 L915.5 388.3 L921.5 388.1 L927.5 388.0 L933.5 387.8 L939.5 387.6 L945.5 387.5 L951.5 387.3 L957.5 387.2 L963.5 387.0 L969.5 386.9 L975.5 386.7 L981.5 386.6 L987.5 386.4 L993.5 386.3 L999.5 386.2 L1005.5 386.1 L1011.5 386.0 L1017.5 385.8 L1023.5 385.7 L1029.5 385.6 L1035.5 385.5 L1041.5 385.4 L1047.5 385.3 L1053.5 385.2 L1059.5 385.1 L1065.5 385.0 L1071.5 384.9 L1077.5 384.8 L1083.5 384.8 L1089.5 384.7 L1095.5 384.6 L1101.5 384.5 L1107.5 384.5 L1113.5 384.4 L1119.5 384.3 L1125.5 384.3 L1131.5 384.2 L1137.5 384.1 L1143.5 384.1 L1149.5 384.0 L1155.5 384.0 L1161.5 383.9 L1167.5 383.9 L1173.5 383.8 L1179.5 383.8 L1185.5 383.7 L1191.5 383.7 L1197.5 383.7 L1203.5 383.6 L1209.5 383.6 L1215.5 383.5 L1221.5 383.5 L1227.5 383.5 L1233.5 383.5 L1239.5 383.4 L1245.5 383.4 L1251.5 383.4 L1257.5 383.3 L1263.5 383.3 L1269.5 383.3 L1275.5 383.3 L1281.5 383.3 L1287.5 383.2 L1293.5 383.2 L1299.5 383.2 L1305.5 383.2 L1311.5 383.2 L1317.5 383.2 L1323.5 383.1 L1329.5 383.1 L1335.5 383.1 L1341.5 383.1 L1347.5 383.1 L1353.5 383.1 L1359.5 383.1 L1365.5 383.1 L1371.5 383.0 L1377.5 383.0 L1383.5 383.0 L1389.5 383.0 L1394.3 383.0" stroke="#3f2f8a"/>
<path d="M801.5 391.0 L807.5 390.8 L813.5 390.7 L819.5 390.5 L825.5 390.3 L831.5 390.2 L837.5 390.0 L843.5 389.9 L849.5 389.7 L855.5 389.6 L861.5 389.4 L867.5 389.3 L873.5 389.1 L879.5 389.0 L885.5 388.8 L891.5 388.7 L897.5 388.6 L903.5 388.4 L909.5 388.3 L915.5 388.2 L921.5 388.0 L927.5 387.9 L933.5 387.8 L939.5 387.6 L945.5 387.5 L951.5 387.4 L957.5 387.3 L963.5 387.2 L969.5 387.1 L975.5 386.9 L981.5 386.8 L987.5 386.7 L993.5 386.6 L999.5 386.5 L1005.5 386.4 L1011.5 386.3 L1017.5 386.2 L1023.5 386.1 L1029.5 386.0 L1035.5 385.9 L1041.5 385.8 L1047.5 385.7 L1053.5 385.6 L1059.5 385.5 L1065.5 385.4 L1071.5 385.3 L1077.5 385.3 L1083.5 385.2 L1089.5 385.1 L1095.5 385.0 L1101.5 384.9 L1107.5 384.9 L1113.5 384.8 L1119.5 384.7 L1125.5 384.6 L1131.5 384.6 L1137.5 384.5 L1143.5 384.4 L1149.5 384.4 L1155.5 384.3 L1161.5 384.3 L1167.5 384.2 L1173.5 384.1 L1179.5 384.1 L1185.5 384.0 L1191.5 384.0 L1197.5 383.9 L1203.5 383.9 L1209.5 383.8 L1215.5 383.8 L1221.5 383.7 L1227.5 383.7 L1233.5 383.6 L1239.5 383.6 L1245.5 383.6 L1251.5 383.5 L1257.5 383.5 L1263.5 383.5 L1269.5 383.4 L1275.5 383.4 L1281.5 383.4 L1287.5 383.3 L1293.5 383.3 L1299.5 383.3 L1305.5 383.2 L1311.5 383.2 L1317.5 383.2 L1323.5 383.2 L1329.5 383.2 L1335.5 383.1 L1341.5 383.1 L1347.5 383.1 L1353.5 383.1 L1359.5 383.1 L1365.5 383.1 L1371.5 383.0 L1377.5 383.0 L1383.5 383.0 L1389.5 383.0 L1394.3 383.0" stroke="#39b54a"/>
<path d="M801.5 389.5 L807.5 389.3 L813.5 389.2 L819.5 389.0 L825.5 388.9 L831.5 388.8 L837.5 388.6 L843.5 388.5 L849.5 388.3 L855.5 388.2 L861.5 388.1 L867.5 387.9 L873.5 387.8 L879.5 387.7 L885.5 387.6 L891.5 387.4 L897.5 387.3 L903.5 387.2 L909.5 387.1 L915.5 387.0 L921.5 386.9 L927.5 386.7 L933.5 386.6 L939.5 386.5 L945.5 386.4 L951.5 386.3 L957.5 386.2 L963.5 386.1 L969.5 386.0 L975.5 385.9 L981.5 385.8 L987.5 385.7 L993.5 385.7 L999.5 385.6 L1005.5 385.5 L1011.5 385.4 L1017.5 385.3 L1023.5 385.2 L1029.5 385.2 L1035.5 385.1 L1041.5 385.0 L1047.5 384.9 L1053.5 384.9 L1059.5 384.8 L1065.5 384.7 L1071.5 384.7 L1077.5 384.6 L1083.5 384.5 L1089.5 384.5 L1095.5 384.4 L1101.5 384.3 L1107.5 384.3 L1113.5 384.2 L1119.5 384.2 L1125.5 384.1 L1131.5 384.1 L1137.5 384.0 L1143.5 384.0 L1149.5 383.9 L1155.5 383.9 L1161.5 383.8 L1167.5 383.8 L1173.5 383.8 L1179.5 383.7 L1185.5 383.7 L1191.5 383.6 L1197.5 383.6 L1203.5 383.6 L1209.5 383.5 L1215.5 383.5 L1221.5 383.5 L1227.5 383.4 L1233.5 383.4 L1239.5 383.4 L1245.5 383.4 L1251.5 383.3 L1257.5 383.3 L1263.5 383.3 L1269.5 383.3 L1275.5 383.2 L1281.5 383.2 L1287.5 383.2 L1293.5 383.2 L1299.5 383.2 L1305.5 383.2 L1311.5 383.1 L1317.5 383.1 L1323.5 383.1 L1329.5 383.1 L1335.5 383.1 L1341.5 383.1 L1347.5 383.1 L1353.5 383.1 L1359.5 383.0 L1365.5 383.0 L1371.5 383.0 L1377.5 383.0 L1383.5 383.0 L1389.5 383.0 L1394.3 383.0" stroke="#b6d320"/>
<path d="M801.5 383.8 L807.5 383.8 L813.5 383.8 L819.5 383.8 L825.5 383.7 L831.5 383.7 L837.5 383.7 L843.5 383.7 L849.5 383.7 L855.5 383.7 L861.5 383.7 L867.5 383.6 L873.5 383.6 L879.5 383.6 L885.5 383.6 L891.5 383.6 L897.5 383.6 L903.5 383.6 L909.5 383.5 L915.5 383.5 L921.5 383.5 L927.5 383.5 L933.5 383.5 L939.5 383.5 L945.5 383.5 L951.5 383.5 L957.5 383.5 L963.5 383.4 L969.5 383.4 L975.5 383.4 L981.5 383.4 L987.5 383.4 L993.5 383.4 L999.5 383.4 L1005.5 383.4 L1011.5 383.4 L1017.5 383.3 L1023.5 383.3 L1029.5 383.3 L1035.5 383.3 L1041.5 383.3 L1047.5 383.3 L1053.5 383.3 L1059.5 383.3 L1065.5 383.3 L1071.5 383.3 L1077.5 383.3 L1083.5 383.2 L1089.5 383.2 L1095.5 383.2 L1101.5 383.2 L1107.5 383.2 L1113.5 383.2 L1119.5 383.2 L1125.5 383.2 L1131.5 383.2 L1137.5 383.2 L1143.5 383.2 L1149.5 383.2 L1155.5 383.2 L1161.5 383.1 L1167.5 383.1 L1173.5 383.1 L1179.5 383.1 L1185.5 383.1 L1191.5 383.1 L1197.5 383.1 L1203.5 383.1 L1209.5 383.1 L1215.5 383.1 L1221.5 383.1 L1227.5 383.1 L1233.5 383.1 L1239.5 383.1 L1245.5 383.1 L1251.5 383.1 L1257.5 383.1 L1263.5 383.1 L1269.5 383.1 L1275.5 383.0 L1281.5 383.0 L1287.5 383.0 L1293.5 383.0 L1299.5 383.0 L1305.5 383.0 L1311.5 383.0 L1317.5 383.0 L1323.5 383.0 L1329.5 383.0 L1335.5 383.0 L1341.5 383.0 L1347.5 383.0 L1353.5 383.0 L1359.5 383.0 L1365.5 383.0 L1371.5 383.0 L1377.5 383.0 L1383.5 383.0 L1389.5 383.0 L1394.3 383.0" stroke="#8dd35f"/>
<path d="M801.5 382.4 L807.5 382.4 L813.5 382.4 L819.5 382.4 L825.5 382.4 L831.5 382.5 L837.5 382.5 L843.5 382.5 L849.5 382.5 L855.5 382.5 L861.5 382.5 L867.5 382.5 L873.5 382.5 L879.5 382.5 L885.5 382.5 L891.5 382.6 L897.5 382.6 L903.5 382.6 L909.5 382.6 L915.5 382.6 L921.5 382.6 L927.5 382.6 L933.5 382.6 L939.5 382.6 L945.5 382.6 L951.5 382.7 L957.5 382.7 L963.5 382.7 L969.5 382.7 L975.5 382.7 L981.5 382.7 L987.5 382.7 L993.5 382.7 L999.5 382.7 L1005.5 382.7 L1011.5 382.7 L1017.5 382.7 L1023.5 382.7 L1029.5 382.8 L1035.5 382.8 L1041.5 382.8 L1047.5 382.8 L1053.5 382.8 L1059.5 382.8 L1065.5 382.8 L1071.5 382.8 L1077.5 382.8 L1083.5 382.8 L1089.5 382.8 L1095.5 382.8 L1101.5 382.8 L1107.5 382.8 L1113.5 382.8 L1119.5 382.9 L1125.5 382.9 L1131.5 382.9 L1137.5 382.9 L1143.5 382.9 L1149.5 382.9 L1155.5 382.9 L1161.5 382.9 L1167.5 382.9 L1173.5 382.9 L1179.5 382.9 L1185.5 382.9 L1191.5 382.9 L1197.5 382.9 L1203.5 382.9 L1209.5 382.9 L1215.5 382.9 L1221.5 382.9 L1227.5 382.9 L1233.5 382.9 L1239.5 382.9 L1245.5 382.9 L1251.5 383.0 L1257.5 383.0 L1263.5 383.0 L1269.5 383.0 L1275.5 383.0 L1281.5 383.0 L1287.5 383.0 L1293.5 383.0 L1299.5 383.0 L1305.5 383.0 L1311.5 383.0 L1317.5 383.0 L1323.5 383.0 L1329.5 383.0 L1335.5 383.0 L1341.5 383.0 L1347.5 383.0 L1353.5 383.0 L1359.5 383.0 L1365.5 383.0 L1371.5 383.0 L1377.5 383.0 L1383.5 383.0 L1389.5 383.0 L1394.3 383.0" stroke="#39b54a"/>
<path d="M801.5 381.0 L807.5 381.0 L813.5 381.1 L819.5 381.1 L825.5 381.2 L831.5 381.2 L837.5 381.2 L843.5 381.3 L849.5 381.3 L855.5 381.3 L861.5 381.4 L867.5 381.4 L873.5 381.4 L879.5 381.5 L885.5 381.5 L891.5 381.5 L897.5 381.6 L903.5 381.6 L909.5 381.6 L915.5 381.7 L921.5 381.7 L927.5 381.7 L933.5 381.8 L939.5 381.8 L945.5 381.8 L951.5 381.8 L957.5 381.9 L963.5 381.9 L969.5 381.9 L975.5 382.0 L981.5 382.0 L987.5 382.0 L993.5 382.0 L999.5 382.1 L1005.5 382.1 L1011.5 382.1 L1017.5 382.1 L1023.5 382.2 L1029.5 382.2 L1035.5 382.2 L1041.5 382.2 L1047.5 382.3 L1053.5 382.3 L1059.5 382.3 L1065.5 382.3 L1071.5 382.4 L1077.5 382.4 L1083.5 382.4 L1089.5 382.4 L1095.5 382.4 L1101.5 382.5 L1107.5 382.5 L1113.5 382.5 L1119.5 382.5 L1125.5 382.5 L1131.5 382.6 L1137.5 382.6 L1143.5 382.6 L1149.5 382.6 L1155.5 382.6 L1161.5 382.6 L1167.5 382.7 L1173.5 382.7 L1179.5 382.7 L1185.5 382.7 L1191.5 382.7 L1197.5 382.7 L1203.5 382.7 L1209.5 382.8 L1215.5 382.8 L1221.5 382.8 L1227.5 382.8 L1233.5 382.8 L1239.5 382.8 L1245.5 382.8 L1251.5 382.8 L1257.5 382.9 L1263.5 382.9 L1269.5 382.9 L1275.5 382.9 L1281.5 382.9 L1287.5 382.9 L1293.5 382.9 L1299.5 382.9 L1305.5 382.9 L1311.5 382.9 L1317.5 382.9 L1323.5 382.9 L1329.5 383.0 L1335.5 383.0 L1341.5 383.0 L1347.5 383.0 L1353.5 383.0 L1359.5 383.0 L1365.5 383.0 L1371.5 383.0 L1377.5 383.0 L1383.5 383.0 L1389.5 383.0 L1394.3 383.0" stroke="#8d4fa8"/>
<path d="M801.5 379.5 L807.5 379.6 L813.5 379.6 L819.5 379.7 L825.5 379.8 L831.5 379.8 L837.5 379.9 L843.5 380.0 L849.5 380.0 L855.5 380.1 L861.5 380.1 L867.5 380.2 L873.5 380.3 L879.5 380.3 L885.5 380.4 L891.5 380.4 L897.5 380.5 L903.5 380.5 L909.5 380.6 L915.5 380.7 L921.5 380.7 L927.5 380.8 L933.5 380.8 L939.5 380.9 L945.5 380.9 L951.5 381.0 L957.5 381.0 L963.5 381.1 L969.5 381.1 L975.5 381.2 L981.5 381.2 L987.5 381.3 L993.5 381.3 L999.5 381.4 L1005.5 381.4 L1011.5 381.5 L1017.5 381.5 L1023.5 381.5 L1029.5 381.6 L1035.5 381.6 L1041.5 381.7 L1047.5 381.7 L1053.5 381.7 L1059.5 381.8 L1065.5 381.8 L1071.5 381.9 L1077.5 381.9 L1083.5 381.9 L1089.5 382.0 L1095.5 382.0 L1101.5 382.0 L1107.5 382.1 L1113.5 382.1 L1119.5 382.2 L1125.5 382.2 L1131.5 382.2 L1137.5 382.2 L1143.5 382.3 L1149.5 382.3 L1155.5 382.3 L1161.5 382.4 L1167.5 382.4 L1173.5 382.4 L1179.5 382.5 L1185.5 382.5 L1191.5 382.5 L1197.5 382.5 L1203.5 382.6 L1209.5 382.6 L1215.5 382.6 L1221.5 382.6 L1227.5 382.6 L1233.5 382.7 L1239.5 382.7 L1245.5 382.7 L1251.5 382.7 L1257.5 382.7 L1263.5 382.8 L1269.5 382.8 L1275.5 382.8 L1281.5 382.8 L1287.5 382.8 L1293.5 382.8 L1299.5 382.9 L1305.5 382.9 L1311.5 382.9 L1317.5 382.9 L1323.5 382.9 L1329.5 382.9 L1335.5 382.9 L1341.5 382.9 L1347.5 383.0 L1353.5 383.0 L1359.5 383.0 L1365.5 383.0 L1371.5 383.0 L1377.5 383.0 L1383.5 383.0 L1389.5 383.0 L1394.3 383.0" stroke="#3b66b5"/>
<path d="M801.5 378.0 L807.5 378.1 L813.5 378.2 L819.5 378.3 L825.5 378.4 L831.5 378.5 L837.5 378.7 L843.5 378.8 L849.5 378.9 L855.5 379.0 L861.5 379.1 L867.5 379.2 L873.5 379.3 L879.5 379.4 L885.5 379.4 L891.5 379.5 L897.5 379.6 L903.5 379.7 L909.5 379.8 L915.5 379.9 L921.5 380.0 L927.5 380.1 L933.5 380.1 L939.5 380.2 L945.5 380.3 L951.5 380.4 L957.5 380.5 L963.5 380.5 L969.5 380.6 L975.5 380.7 L981.5 380.7 L987.5 380.8 L993.5 380.9 L999.5 381.0 L1005.5 381.0 L1011.5 381.1 L1017.5 381.2 L1023.5 381.2 L1029.5 381.3 L1035.5 381.3 L1041.5 381.4 L1047.5 381.4 L1053.5 381.5 L1059.5 381.6 L1065.5 381.6 L1071.5 381.7 L1077.5 381.7 L1083.5 381.8 L1089.5 381.8 L1095.5 381.9 L1101.5 381.9 L1107.5 382.0 L1113.5 382.0 L1119.5 382.0 L1125.5 382.1 L1131.5 382.1 L1137.5 382.2 L1143.5 382.2 L1149.5 382.2 L1155.5 382.3 L1161.5 382.3 L1167.5 382.3 L1173.5 382.4 L1179.5 382.4 L1185.5 382.4 L1191.5 382.5 L1197.5 382.5 L1203.5 382.5 L1209.5 382.6 L1215.5 382.6 L1221.5 382.6 L1227.5 382.6 L1233.5 382.7 L1239.5 382.7 L1245.5 382.7 L1251.5 382.7 L1257.5 382.7 L1263.5 382.8 L1269.5 382.8 L1275.5 382.8 L1281.5 382.8 L1287.5 382.8 L1293.5 382.8 L1299.5 382.9 L1305.5 382.9 L1311.5 382.9 L1317.5 382.9 L1323.5 382.9 L1329.5 382.9 L1335.5 382.9 L1341.5 382.9 L1347.5 382.9 L1353.5 383.0 L1359.5 383.0 L1365.5 383.0 L1371.5 383.0 L1377.5 383.0 L1383.5 383.0 L1389.5 383.0 L1394.3 383.0" stroke="#f7941d"/>
<path d="M801.5 376.5 L807.5 376.6 L813.5 376.8 L819.5 376.9 L825.5 377.0 L831.5 377.2 L837.5 377.3 L843.5 377.4 L849.5 377.5 L855.5 377.7 L861.5 377.8 L867.5 377.9 L873.5 378.0 L879.5 378.1 L885.5 378.3 L891.5 378.4 L897.5 378.5 L903.5 378.6 L909.5 378.7 L915.5 378.8 L921.5 378.9 L927.5 379.0 L933.5 379.1 L939.5 379.2 L945.5 379.3 L951.5 379.4 L957.5 379.5 L963.5 379.6 L969.5 379.7 L975.5 379.8 L981.5 379.9 L987.5 380.0 L993.5 380.1 L999.5 380.2 L1005.5 380.2 L1011.5 380.3 L1017.5 380.4 L1023.5 380.5 L1029.5 380.6 L1035.5 380.7 L1041.5 380.7 L1047.5 380.8 L1053.5 380.9 L1059.5 381.0 L1065.5 381.0 L1071.5 381.1 L1077.5 381.2 L1083.5 381.2 L1089.5 381.3 L1095.5 381.4 L1101.5 381.4 L1107.5 381.5 L1113.5 381.5 L1119.5 381.6 L1125.5 381.7 L1131.5 381.7 L1137.5 381.8 L1143.5 381.8 L1149.5 381.9 L1155.5 381.9 L1161.5 382.0 L1167.5 382.0 L1173.5 382.1 L1179.5 382.1 L1185.5 382.2 L1191.5 382.2 L1197.5 382.3 L1203.5 382.3 L1209.5 382.3 L1215.5 382.4 L1221.5 382.4 L1227.5 382.4 L1233.5 382.5 L1239.5 382.5 L1245.5 382.5 L1251.5 382.6 L1257.5 382.6 L1263.5 382.6 L1269.5 382.7 L1275.5 382.7 L1281.5 382.7 L1287.5 382.7 L1293.5 382.8 L1299.5 382.8 L1305.5 382.8 L1311.5 382.8 L1317.5 382.8 L1323.5 382.9 L1329.5 382.9 L1335.5 382.9 L1341.5 382.9 L1347.5 382.9 L1353.5 382.9 L1359.5 382.9 L1365.5 383.0 L1371.5 383.0 L1377.5 383.0 L1383.5 383.0 L1389.5 383.0 L1394.3 383.0" stroke="#f7b500"/>
<path d="M801.5 375.0 L807.5 375.2 L813.5 375.4 L819.5 375.6 L825.5 375.7 L831.5 375.9 L837.5 376.1 L843.5 376.3 L849.5 376.4 L855.5 376.6 L861.5 376.8 L867.5 376.9 L873.5 377.1 L879.5 377.2 L885.5 377.4 L891.5 377.5 L897.5 377.7 L903.5 377.8 L909.5 378.0 L915.5 378.1 L921.5 378.3 L927.5 378.4 L933.5 378.5 L939.5 378.7 L945.5 378.8 L951.5 378.9 L957.5 379.0 L963.5 379.2 L969.5 379.3 L975.5 379.4 L981.5 379.5 L987.5 379.6 L993.5 379.7 L999.5 379.8 L1005.5 379.9 L1011.5 380.0 L1017.5 380.1 L1023.5 380.2 L1029.5 380.3 L1035.5 380.4 L1041.5 380.5 L1047.5 380.6 L1053.5 380.7 L1059.5 380.8 L1065.5 380.9 L1071.5 381.0 L1077.5 381.0 L1083.5 381.1 L1089.5 381.2 L1095.5 381.3 L1101.5 381.3 L1107.5 381.4 L1113.5 381.5 L1119.5 381.6 L1125.5 381.6 L1131.5 381.7 L1137.5 381.7 L1143.5 381.8 L1149.5 381.9 L1155.5 381.9 L1161.5 382.0 L1167.5 382.0 L1173.5 382.1 L1179.5 382.1 L1185.5 382.2 L1191.5 382.2 L1197.5 382.3 L1203.5 382.3 L1209.5 382.3 L1215.5 382.4 L1221.5 382.4 L1227.5 382.5 L1233.5 382.5 L1239.5 382.5 L1245.5 382.6 L1251.5 382.6 L1257.5 382.6 L1263.5 382.6 L1269.5 382.7 L1275.5 382.7 L1281.5 382.7 L1287.5 382.7 L1293.5 382.8 L1299.5 382.8 L1305.5 382.8 L1311.5 382.8 L1317.5 382.8 L1323.5 382.9 L1329.5 382.9 L1335.5 382.9 L1341.5 382.9 L1347.5 382.9 L1353.5 382.9 L1359.5 382.9 L1365.5 383.0 L1371.5 383.0 L1377.5 383.0 L1383.5 383.0 L1389.5 383.0 L1394.3 383.0" stroke="#f4e628"/>
<path d="M801.5 373.6 L807.5 373.8 L813.5 374.0 L819.5 374.2 L825.5 374.4 L831.5 374.6 L837.5 374.8 L843.5 375.0 L849.5 375.2 L855.5 375.3 L861.5 375.5 L867.5 375.7 L873.5 375.9 L879.5 376.1 L885.5 376.2 L891.5 376.4 L897.5 376.6 L903.5 376.7 L909.5 376.9 L915.5 377.0 L921.5 377.2 L927.5 377.4 L933.5 377.5 L939.5 377.7 L945.5 377.8 L951.5 378.0 L957.5 378.1 L963.5 378.2 L969.5 378.4 L975.5 378.5 L981.5 378.6 L987.5 378.8 L993.5 378.9 L999.5 379.0 L1005.5 379.2 L1011.5 379.3 L1017.5 379.4 L1023.5 379.5 L1029.5 379.6 L1035.5 379.7 L1041.5 379.8 L1047.5 380.0 L1053.5 380.1 L1059.5 380.2 L1065.5 380.3 L1071.5 380.4 L1077.5 380.5 L1083.5 380.6 L1089.5 380.7 L1095.5 380.7 L1101.5 380.8 L1107.5 380.9 L1113.5 381.0 L1119.5 381.1 L1125.5 381.2 L1131.5 381.3 L1137.5 381.3 L1143.5 381.4 L1149.5 381.5 L1155.5 381.5 L1161.5 381.6 L1167.5 381.7 L1173.5 381.8 L1179.5 381.8 L1185.5 381.9 L1191.5 381.9 L1197.5 382.0 L1203.5 382.1 L1209.5 382.1 L1215.5 382.2 L1221.5 382.2 L1227.5 382.3 L1233.5 382.3 L1239.5 382.3 L1245.5 382.4 L1251.5 382.4 L1257.5 382.5 L1263.5 382.5 L1269.5 382.5 L1275.5 382.6 L1281.5 382.6 L1287.5 382.7 L1293.5 382.7 L1299.5 382.7 L1305.5 382.7 L1311.5 382.8 L1317.5 382.8 L1323.5 382.8 L1329.5 382.8 L1335.5 382.9 L1341.5 382.9 L1347.5 382.9 L1353.5 382.9 L1359.5 382.9 L1365.5 382.9 L1371.5 383.0 L1377.5 383.0 L1383.5 383.0 L1389.5 383.0 L1394.3 383.0" stroke="#2fb5a0"/>
<path d="M801.5 372.2 L807.5 372.5 L813.5 372.7 L819.5 373.0 L825.5 373.2 L831.5 373.5 L837.5 373.7 L843.5 374.0 L849.5 374.2 L855.5 374.4 L861.5 374.6 L867.5 374.9 L873.5 375.1 L879.5 375.3 L885.5 375.5 L891.5 375.7 L897.5 375.9 L903.5 376.1 L909.5 376.3 L915.5 376.5 L921.5 376.7 L927.5 376.9 L933.5 377.1 L939.5 377.3 L945.5 377.4 L951.5 377.6 L957.5 377.8 L963.5 377.9 L969.5 378.1 L975.5 378.3 L981.5 378.4 L987.5 378.6 L993.5 378.7 L999.5 378.9 L1005.5 379.0 L1011.5 379.1 L1017.5 379.3 L1023.5 379.4 L1029.5 379.5 L1035.5 379.7 L1041.5 379.8 L1047.5 379.9 L1053.5 380.0 L1059.5 380.2 L1065.5 380.3 L1071.5 380.4 L1077.5 380.5 L1083.5 380.6 L1089.5 380.7 L1095.5 380.8 L1101.5 380.9 L1107.5 381.0 L1113.5 381.1 L1119.5 381.1 L1125.5 381.2 L1131.5 381.3 L1137.5 381.4 L1143.5 381.5 L1149.5 381.5 L1155.5 381.6 L1161.5 381.7 L1167.5 381.8 L1173.5 381.8 L1179.5 381.9 L1185.5 381.9 L1191.5 382.0 L1197.5 382.1 L1203.5 382.1 L1209.5 382.2 L1215.5 382.2 L1221.5 382.3 L1227.5 382.3 L1233.5 382.4 L1239.5 382.4 L1245.5 382.4 L1251.5 382.5 L1257.5 382.5 L1263.5 382.5 L1269.5 382.6 L1275.5 382.6 L1281.5 382.6 L1287.5 382.7 L1293.5 382.7 L1299.5 382.7 L1305.5 382.8 L1311.5 382.8 L1317.5 382.8 L1323.5 382.8 L1329.5 382.8 L1335.5 382.9 L1341.5 382.9 L1347.5 382.9 L1353.5 382.9 L1359.5 382.9 L1365.5 382.9 L1371.5 383.0 L1377.5 383.0 L1383.5 383.0 L1389.5 383.0 L1394.3 383.0" stroke="#8dd35f"/>
<path d="M801.5 370.8 L807.5 371.1 L813.5 371.3 L819.5 371.6 L825.5 371.9 L831.5 372.1 L837.5 372.4 L843.5 372.7 L849.5 372.9 L855.5 373.1 L861.5 373.4 L867.5 373.6 L873.5 373.9 L879.5 374.1 L885.5 374.3 L891.5 374.5 L897.5 374.8 L903.5 375.0 L909.5 375.2 L915.5 375.4 L921.5 375.6 L927.5 375.8 L933.5 376.0 L939.5 376.2 L945.5 376.4 L951.5 376.6 L957.5 376.8 L963.5 377.0 L969.5 377.2 L975.5 377.3 L981.5 377.5 L987.5 377.7 L993.5 377.8 L999.5 378.0 L1005.5 378.2 L1011.5 378.3 L1017.5 378.5 L1023.5 378.6 L1029.5 378.8 L1035.5 378.9 L1041.5 379.1 L1047.5 379.2 L1053.5 379.4 L1059.5 379.5 L1065.5 379.6 L1071.5 379.7 L1077.5 379.9 L1083.5 380.0 L1089.5 380.1 L1095.5 380.2 L1101.5 380.3 L1107.5 380.4 L1113.5 380.6 L1119.5 380.7 L1125.5 380.8 L1131.5 380.9 L1137.5 381.0 L1143.5 381.1 L1149.5 381.1 L1155.5 381.2 L1161.5 381.3 L1167.5 381.4 L1173.5 381.5 L1179.5 381.6 L1185.5 381.6 L1191.5 381.7 L1197.5 381.8 L1203.5 381.9 L1209.5 381.9 L1215.5 382.0 L1221.5 382.0 L1227.5 382.1 L1233.5 382.2 L1239.5 382.2 L1245.5 382.3 L1251.5 382.3 L1257.5 382.4 L1263.5 382.4 L1269.5 382.5 L1275.5 382.5 L1281.5 382.5 L1287.5 382.6 L1293.5 382.6 L1299.5 382.7 L1305.5 382.7 L1311.5 382.7 L1317.5 382.7 L1323.5 382.8 L1329.5 382.8 L1335.5 382.8 L1341.5 382.8 L1347.5 382.9 L1353.5 382.9 L1359.5 382.9 L1365.5 382.9 L1371.5 382.9 L1377.5 383.0 L1383.5 383.0 L1389.5 383.0 L1394.3 383.0" stroke="#ed3a2c"/>
<path d="M801.5 369.4 L807.5 369.7 L813.5 370.0 L819.5 370.3 L825.5 370.6 L831.5 370.9 L837.5 371.2 L843.5 371.5 L849.5 371.8 L855.5 372.1 L861.5 372.4 L867.5 372.7 L873.5 372.9 L879.5 373.2 L885.5 373.5 L891.5 373.7 L897.5 374.0 L903.5 374.2 L909.5 374.5 L915.5 374.7 L921.5 374.9 L927.5 375.2 L933.5 375.4 L939.5 375.6 L945.5 375.8 L951.5 376.0 L957.5 376.3 L963.5 376.5 L969.5 376.7 L975.5 376.9 L981.5 377.1 L987.5 377.3 L993.5 377.4 L999.5 377.6 L1005.5 377.8 L1011.5 378.0 L1017.5 378.2 L1023.5 378.3 L1029.5 378.5 L1035.5 378.6 L1041.5 378.8 L1047.5 379.0 L1053.5 379.1 L1059.5 379.3 L1065.5 379.4 L1071.5 379.5 L1077.5 379.7 L1083.5 379.8 L1089.5 379.9 L1095.5 380.1 L1101.5 380.2 L1107.5 380.3 L1113.5 380.4 L1119.5 380.5 L1125.5 380.6 L1131.5 380.8 L1137.5 380.9 L1143.5 381.0 L1149.5 381.1 L1155.5 381.2 L1161.5 381.2 L1167.5 381.3 L1173.5 381.4 L1179.5 381.5 L1185.5 381.6 L1191.5 381.7 L1197.5 381.7 L1203.5 381.8 L1209.5 381.9 L1215.5 381.9 L1221.5 382.0 L1227.5 382.1 L1233.5 382.1 L1239.5 382.2 L1245.5 382.2 L1251.5 382.3 L1257.5 382.3 L1263.5 382.4 L1269.5 382.4 L1275.5 382.5 L1281.5 382.5 L1287.5 382.6 L1293.5 382.6 L1299.5 382.6 L1305.5 382.7 L1311.5 382.7 L1317.5 382.7 L1323.5 382.8 L1329.5 382.8 L1335.5 382.8 L1341.5 382.8 L1347.5 382.9 L1353.5 382.9 L1359.5 382.9 L1365.5 382.9 L1371.5 382.9 L1377.5 383.0 L1383.5 383.0 L1389.5 383.0 L1394.3 383.0" stroke="#f7941d"/>
<path d="M801.5 367.9 L807.5 368.2 L813.5 368.6 L819.5 368.9 L825.5 369.2 L831.5 369.6 L837.5 369.9 L843.5 370.2 L849.5 370.5 L855.5 370.8 L861.5 371.1 L867.5 371.4 L873.5 371.7 L879.5 372.0 L885.5 372.3 L891.5 372.5 L897.5 372.8 L903.5 373.1 L909.5 373.3 L915.5 373.6 L921.5 373.9 L927.5 374.1 L933.5 374.4 L939.5 374.6 L945.5 374.9 L951.5 375.1 L957.5 375.3 L963.5 375.5 L969.5 375.8 L975.5 376.0 L981.5 376.2 L987.5 376.4 L993.5 376.6 L999.5 376.8 L1005.5 377.0 L1011.5 377.2 L1017.5 377.4 L1023.5 377.6 L1029.5 377.8 L1035.5 378.0 L1041.5 378.1 L1047.5 378.3 L1053.5 378.5 L1059.5 378.7 L1065.5 378.8 L1071.5 379.0 L1077.5 379.1 L1083.5 379.3 L1089.5 379.4 L1095.5 379.6 L1101.5 379.7 L1107.5 379.8 L1113.5 380.0 L1119.5 380.1 L1125.5 380.2 L1131.5 380.4 L1137.5 380.5 L1143.5 380.6 L1149.5 380.7 L1155.5 380.8 L1161.5 380.9 L1167.5 381.0 L1173.5 381.1 L1179.5 381.2 L1185.5 381.3 L1191.5 381.4 L1197.5 381.5 L1203.5 381.6 L1209.5 381.7 L1215.5 381.7 L1221.5 381.8 L1227.5 381.9 L1233.5 382.0 L1239.5 382.0 L1245.5 382.1 L1251.5 382.2 L1257.5 382.2 L1263.5 382.3 L1269.5 382.3 L1275.5 382.4 L1281.5 382.4 L1287.5 382.5 L1293.5 382.5 L1299.5 382.6 L1305.5 382.6 L1311.5 382.6 L1317.5 382.7 L1323.5 382.7 L1329.5 382.8 L1335.5 382.8 L1341.5 382.8 L1347.5 382.8 L1353.5 382.9 L1359.5 382.9 L1365.5 382.9 L1371.5 382.9 L1377.5 383.0 L1383.5 383.0 L1389.5 383.0 L1394.3 383.0" stroke="#f7941d"/>
<path d="M801.5 359.5 L807.5 360.1 L813.5 360.7 L819.5 361.2 L825.5 361.8 L831.5 362.4 L837.5 362.9 L843.5 363.4 L849.5 364.0 L855.5 364.5 L861.5 365.0 L867.5 365.5 L873.5 366.0 L879.5 366.5 L885.5 366.9 L891.5 367.4 L897.5 367.9 L903.5 368.3 L909.5 368.7 L915.5 369.2 L921.5 369.6 L927.5 370.0 L933.5 370.4 L939.5 370.8 L945.5 371.2 L951.5 371.6 L957.5 371.9 L963.5 372.3 L969.5 372.6 L975.5 373.0 L981.5 373.3 L987.5 373.7 L993.5 374.0 L999.5 374.3 L1005.5 374.6 L1011.5 374.9 L1017.5 375.2 L1023.5 375.5 L1029.5 375.8 L1035.5 376.0 L1041.5 376.3 L1047.5 376.6 L1053.5 376.8 L1059.5 377.1 L1065.5 377.3 L1071.5 377.5 L1077.5 377.8 L1083.5 378.0 L1089.5 378.2 L1095.5 378.4 L1101.5 378.6 L1107.5 378.8 L1113.5 379.0 L1119.5 379.2 L1125.5 379.4 L1131.5 379.5 L1137.5 379.7 L1143.5 379.9 L1149.5 380.0 L1155.5 380.2 L1161.5 380.3 L1167.5 380.4 L1173.5 380.6 L1179.5 380.7 L1185.5 380.8 L1191.5 381.0 L1197.5 381.1 L1203.5 381.2 L1209.5 381.3 L1215.5 381.4 L1221.5 381.5 L1227.5 381.6 L1233.5 381.7 L1239.5 381.8 L1245.5 381.9 L1251.5 381.9 L1257.5 382.0 L1263.5 382.1 L1269.5 382.1 L1275.5 382.2 L1281.5 382.3 L1287.5 382.3 L1293.5 382.4 L1299.5 382.4 L1305.5 382.5 L1311.5 382.5 L1317.5 382.6 L1323.5 382.6 L1329.5 382.7 L1335.5 382.7 L1341.5 382.7 L1347.5 382.8 L1353.5 382.8 L1359.5 382.8 L1365.5 382.9 L1371.5 382.9 L1377.5 382.9 L1383.5 383.0 L1389.5 383.0 L1394.3 383.0" stroke="#8d4fa8"/>
<path d="M801.5 357.5 L807.5 358.2 L813.5 358.9 L819.5 359.6 L825.5 360.3 L831.5 360.9 L837.5 361.6 L843.5 362.2 L849.5 362.8 L855.5 363.4 L861.5 364.0 L867.5 364.6 L873.5 365.1 L879.5 365.7 L885.5 366.2 L891.5 366.8 L897.5 367.3 L903.5 367.8 L909.5 368.3 L915.5 368.8 L921.5 369.2 L927.5 369.7 L933.5 370.2 L939.5 370.6 L945.5 371.0 L951.5 371.4 L957.5 371.9 L963.5 372.3 L969.5 372.6 L975.5 373.0 L981.5 373.4 L987.5 373.7 L993.5 374.1 L999.5 374.4 L1005.5 374.8 L1011.5 375.1 L1017.5 375.4 L1023.5 375.7 L1029.5 376.0 L1035.5 376.3 L1041.5 376.5 L1047.5 376.8 L1053.5 377.1 L1059.5 377.3 L1065.5 377.6 L1071.5 377.8 L1077.5 378.0 L1083.5 378.3 L1089.5 378.5 L1095.5 378.7 L1101.5 378.9 L1107.5 379.1 L1113.5 379.3 L1119.5 379.4 L1125.5 379.6 L1131.5 379.8 L1137.5 379.9 L1143.5 380.1 L1149.5 380.2 L1155.5 380.4 L1161.5 380.5 L1167.5 380.7 L1173.5 380.8 L1179.5 380.9 L1185.5 381.0 L1191.5 381.1 L1197.5 381.2 L1203.5 381.3 L1209.5 381.4 L1215.5 381.5 L1221.5 381.6 L1227.5 381.7 L1233.5 381.8 L1239.5 381.9 L1245.5 381.9 L1251.5 382.0 L1257.5 382.1 L1263.5 382.1 L1269.5 382.2 L1275.5 382.3 L1281.5 382.3 L1287.5 382.4 L1293.5 382.4 L1299.5 382.5 L1305.5 382.5 L1311.5 382.5 L1317.5 382.6 L1323.5 382.6 L1329.5 382.7 L1335.5 382.7 L1341.5 382.7 L1347.5 382.8 L1353.5 382.8 L1359.5 382.8 L1365.5 382.9 L1371.5 382.9 L1377.5 382.9 L1383.5 382.9 L1389.5 383.0 L1394.3 383.0" stroke="#45b5e8"/>
<path d="M801.5 354.0 L807.5 354.7 L813.5 355.4 L819.5 356.1 L825.5 356.8 L831.5 357.4 L837.5 358.1 L843.5 358.7 L849.5 359.3 L855.5 360.0 L861.5 360.6 L867.5 361.2 L873.5 361.8 L879.5 362.3 L885.5 362.9 L891.5 363.5 L897.5 364.0 L903.5 364.6 L909.5 365.1 L915.5 365.6 L921.5 366.1 L927.5 366.6 L933.5 367.1 L939.5 367.6 L945.5 368.1 L951.5 368.5 L957.5 369.0 L963.5 369.4 L969.5 369.9 L975.5 370.3 L981.5 370.7 L987.5 371.1 L993.5 371.5 L999.5 371.9 L1005.5 372.3 L1011.5 372.7 L1017.5 373.0 L1023.5 373.4 L1029.5 373.7 L1035.5 374.1 L1041.5 374.4 L1047.5 374.7 L1053.5 375.0 L1059.5 375.4 L1065.5 375.7 L1071.5 375.9 L1077.5 376.2 L1083.5 376.5 L1089.5 376.8 L1095.5 377.0 L1101.5 377.3 L1107.5 377.5 L1113.5 377.8 L1119.5 378.0 L1125.5 378.3 L1131.5 378.5 L1137.5 378.7 L1143.5 378.9 L1149.5 379.1 L1155.5 379.3 L1161.5 379.5 L1167.5 379.7 L1173.5 379.8 L1179.5 380.0 L1185.5 380.2 L1191.5 380.3 L1197.5 380.5 L1203.5 380.6 L1209.5 380.8 L1215.5 380.9 L1221.5 381.0 L1227.5 381.1 L1233.5 381.3 L1239.5 381.4 L1245.5 381.5 L1251.5 381.6 L1257.5 381.7 L1263.5 381.8 L1269.5 381.9 L1275.5 382.0 L1281.5 382.0 L1287.5 382.1 L1293.5 382.2 L1299.5 382.3 L1305.5 382.3 L1311.5 382.4 L1317.5 382.5 L1323.5 382.5 L1329.5 382.6 L1335.5 382.6 L1341.5 382.7 L1347.5 382.7 L1353.5 382.8 L1359.5 382.8 L1365.5 382.8 L1371.5 382.9 L1377.5 382.9 L1383.5 382.9 L1389.5 383.0 L1394.3 383.0" stroke="#7c4fa3"/>
<path d="M801.5 353.0 L807.5 353.8 L813.5 354.5 L819.5 355.2 L825.5 356.0 L831.5 356.7 L837.5 357.4 L843.5 358.0 L849.5 358.7 L855.5 359.4 L861.5 360.0 L867.5 360.7 L873.5 361.3 L879.5 361.9 L885.5 362.5 L891.5 363.1 L897.5 363.7 L903.5 364.2 L909.5 364.8 L915.5 365.3 L921.5 365.9 L927.5 366.4 L933.5 366.9 L939.5 367.4 L945.5 367.9 L951.5 368.4 L957.5 368.9 L963.5 369.3 L969.5 369.8 L975.5 370.2 L981.5 370.7 L987.5 371.1 L993.5 371.5 L999.5 371.9 L1005.5 372.3 L1011.5 372.7 L1017.5 373.0 L1023.5 373.4 L1029.5 373.8 L1035.5 374.1 L1041.5 374.5 L1047.5 374.8 L1053.5 375.1 L1059.5 375.4 L1065.5 375.7 L1071.5 376.0 L1077.5 376.3 L1083.5 376.6 L1089.5 376.9 L1095.5 377.1 L1101.5 377.4 L1107.5 377.6 L1113.5 377.9 L1119.5 378.1 L1125.5 378.3 L1131.5 378.6 L1137.5 378.8 L1143.5 379.0 L1149.5 379.2 L1155.5 379.4 L1161.5 379.6 L1167.5 379.7 L1173.5 379.9 L1179.5 380.1 L1185.5 380.2 L1191.5 380.4 L1197.5 380.5 L1203.5 380.7 L1209.5 380.8 L1215.5 381.0 L1221.5 381.1 L1227.5 381.2 L1233.5 381.3 L1239.5 381.4 L1245.5 381.5 L1251.5 381.6 L1257.5 381.7 L1263.5 381.8 L1269.5 381.9 L1275.5 382.0 L1281.5 382.1 L1287.5 382.1 L1293.5 382.2 L1299.5 382.3 L1305.5 382.3 L1311.5 382.4 L1317.5 382.5 L1323.5 382.5 L1329.5 382.6 L1335.5 382.6 L1341.5 382.7 L1347.5 382.7 L1353.5 382.8 L1359.5 382.8 L1365.5 382.8 L1371.5 382.9 L1377.5 382.9 L1383.5 382.9 L1389.5 383.0 L1394.3 383.0" stroke="#e0305a"/>
<path d="M801.5 352.0 L807.5 352.8 L813.5 353.6 L819.5 354.4 L825.5 355.2 L831.5 355.9 L837.5 356.6 L843.5 357.4 L849.5 358.1 L855.5 358.8 L861.5 359.5 L867.5 360.1 L873.5 360.8 L879.5 361.5 L885.5 362.1 L891.5 362.7 L897.5 363.3 L903.5 363.9 L909.5 364.5 L915.5 365.1 L921.5 365.6 L927.5 366.2 L933.5 366.7 L939.5 367.2 L945.5 367.8 L951.5 368.3 L957.5 368.8 L963.5 369.2 L969.5 369.7 L975.5 370.2 L981.5 370.6 L987.5 371.0 L993.5 371.5 L999.5 371.9 L1005.5 372.3 L1011.5 372.7 L1017.5 373.1 L1023.5 373.5 L1029.5 373.8 L1035.5 374.2 L1041.5 374.5 L1047.5 374.9 L1053.5 375.2 L1059.5 375.5 L1065.5 375.8 L1071.5 376.1 L1077.5 376.4 L1083.5 376.7 L1089.5 377.0 L1095.5 377.2 L1101.5 377.5 L1107.5 377.7 L1113.5 378.0 L1119.5 378.2 L1125.5 378.4 L1131.5 378.7 L1137.5 378.9 L1143.5 379.1 L1149.5 379.3 L1155.5 379.5 L1161.5 379.6 L1167.5 379.8 L1173.5 380.0 L1179.5 380.2 L1185.5 380.3 L1191.5 380.5 L1197.5 380.6 L1203.5 380.7 L1209.5 380.9 L1215.5 381.0 L1221.5 381.1 L1227.5 381.2 L1233.5 381.4 L1239.5 381.5 L1245.5 381.6 L1251.5 381.7 L1257.5 381.8 L1263.5 381.8 L1269.5 381.9 L1275.5 382.0 L1281.5 382.1 L1287.5 382.2 L1293.5 382.2 L1299.5 382.3 L1305.5 382.4 L1311.5 382.4 L1317.5 382.5 L1323.5 382.5 L1329.5 382.6 L1335.5 382.6 L1341.5 382.7 L1347.5 382.7 L1353.5 382.7 L1359.5 382.8 L1365.5 382.8 L1371.5 382.9 L1377.5 382.9 L1383.5 382.9 L1389.5 383.0 L1394.3 383.0" stroke="#2e3192"/>
<path d="M801.5 344.7 L807.5 345.7 L813.5 346.7 L819.5 347.7 L825.5 348.7 L831.5 349.7 L837.5 350.6 L843.5 351.5 L849.5 352.4 L855.5 353.3 L861.5 354.2 L867.5 355.0 L873.5 355.9 L879.5 356.7 L885.5 357.5 L891.5 358.3 L897.5 359.0 L903.5 359.8 L909.5 360.5 L915.5 361.2 L921.5 362.0 L927.5 362.6 L933.5 363.3 L939.5 364.0 L945.5 364.6 L951.5 365.2 L957.5 365.8 L963.5 366.4 L969.5 367.0 L975.5 367.6 L981.5 368.1 L987.5 368.7 L993.5 369.2 L999.5 369.7 L1005.5 370.2 L1011.5 370.7 L1017.5 371.2 L1023.5 371.6 L1029.5 372.1 L1035.5 372.5 L1041.5 372.9 L1047.5 373.3 L1053.5 373.7 L1059.5 374.1 L1065.5 374.5 L1071.5 374.9 L1077.5 375.2 L1083.5 375.6 L1089.5 375.9 L1095.5 376.2 L1101.5 376.5 L1107.5 376.8 L1113.5 377.1 L1119.5 377.4 L1125.5 377.7 L1131.5 377.9 L1137.5 378.2 L1143.5 378.4 L1149.5 378.6 L1155.5 378.9 L1161.5 379.1 L1167.5 379.3 L1173.5 379.5 L1179.5 379.7 L1185.5 379.9 L1191.5 380.0 L1197.5 380.2 L1203.5 380.4 L1209.5 380.5 L1215.5 380.7 L1221.5 380.8 L1227.5 381.0 L1233.5 381.1 L1239.5 381.2 L1245.5 381.3 L1251.5 381.4 L1257.5 381.5 L1263.5 381.6 L1269.5 381.7 L1275.5 381.8 L1281.5 381.9 L1287.5 382.0 L1293.5 382.1 L1299.5 382.2 L1305.5 382.2 L1311.5 382.3 L1317.5 382.4 L1323.5 382.4 L1329.5 382.5 L1335.5 382.5 L1341.5 382.6 L1347.5 382.6 L1353.5 382.7 L1359.5 382.7 L1365.5 382.8 L1371.5 382.8 L1377.5 382.9 L1383.5 382.9 L1389.5 383.0 L1394.3 383.0" stroke="#4b3f9a"/>
<path d="M801.5 343.7 L807.5 344.8 L813.5 345.9 L819.5 346.9 L825.5 348.0 L831.5 349.0 L837.5 350.0 L843.5 350.9 L849.5 351.9 L855.5 352.8 L861.5 353.7 L867.5 354.6 L873.5 355.5 L879.5 356.3 L885.5 357.2 L891.5 358.0 L897.5 358.8 L903.5 359.6 L909.5 360.3 L915.5 361.1 L921.5 361.8 L927.5 362.5 L933.5 363.2 L939.5 363.9 L945.5 364.5 L951.5 365.2 L957.5 365.8 L963.5 366.4 L969.5 367.0 L975.5 367.6 L981.5 368.2 L987.5 368.7 L993.5 369.3 L999.5 369.8 L1005.5 370.3 L1011.5 370.8 L1017.5 371.3 L1023.5 371.7 L1029.5 372.2 L1035.5 372.6 L1041.5 373.1 L1047.5 373.5 L1053.5 373.9 L1059.5 374.3 L1065.5 374.6 L1071.5 375.0 L1077.5 375.4 L1083.5 375.7 L1089.5 376.0 L1095.5 376.3 L1101.5 376.7 L1107.5 376.9 L1113.5 377.2 L1119.5 377.5 L1125.5 377.8 L1131.5 378.0 L1137.5 378.3 L1143.5 378.5 L1149.5 378.8 L1155.5 379.0 L1161.5 379.2 L1167.5 379.4 L1173.5 379.6 L1179.5 379.8 L1185.5 379.9 L1191.5 380.1 L1197.5 380.3 L1203.5 380.4 L1209.5 380.6 L1215.5 380.7 L1221.5 380.9 L1227.5 381.0 L1233.5 381.1 L1239.5 381.2 L1245.5 381.4 L1251.5 381.5 L1257.5 381.6 L1263.5 381.7 L1269.5 381.8 L1275.5 381.9 L1281.5 381.9 L1287.5 382.0 L1293.5 382.1 L1299.5 382.2 L1305.5 382.2 L1311.5 382.3 L1317.5 382.4 L1323.5 382.4 L1329.5 382.5 L1335.5 382.5 L1341.5 382.6 L1347.5 382.6 L1353.5 382.7 L1359.5 382.7 L1365.5 382.8 L1371.5 382.8 L1377.5 382.9 L1383.5 382.9 L1389.5 383.0 L1394.3 383.0" stroke="#45b5e8"/>
<path d="M801.5 415.2 L805.5 414.3 L809.5 413.4 L813.5 412.4 L817.5 411.5 L821.5 410.6 L825.5 409.7 L829.5 408.8 L833.5 407.9 L837.5 407.0 L841.5 406.2 L845.5 405.3 L849.5 404.4 L853.5 403.5 L857.5 402.6 L861.5 401.8 L865.5 400.9 L869.5 400.1 L873.5 399.2 L877.5 398.3 L881.5 397.5 L885.5 396.6 L889.5 395.8 L893.5 395.0 L897.5 394.1 L901.5 393.3 L905.5 392.4 L909.5 391.6 L913.5 390.8 L917.5 390.0 L921.5 389.1 L925.5 388.2 L929.5 387.4 L933.5 386.5 L937.5 385.6 L941.5 384.8 L945.5 384.0 L949.5 383.2 L953.5 382.5 L957.5 381.8 L961.5 381.1 L965.5 380.5 L969.5 379.9 L973.5 379.3 L977.5 378.7 L981.5 378.1 L985.5 377.5 L989.5 377.0 L993.5 376.5 L997.5 376.1 L1001.5 375.8 L1005.5 375.6 L1009.5 375.5 L1013.5 375.5 L1017.5 375.5 L1021.5 375.5 L1025.5 375.6 L1029.5 375.6 L1033.5 375.7 L1037.5 375.7 L1041.5 375.8 L1045.5 375.8 L1049.5 375.9 L1053.5 376.0 L1057.5 376.1 L1061.5 376.2 L1065.5 376.2 L1069.5 376.3 L1073.5 376.4 L1077.5 376.5 L1081.5 376.6 L1085.5 376.7 L1089.5 376.8 L1093.5 376.9 L1097.5 376.9 L1101.5 377.0 L1105.5 377.1 L1109.5 377.2 L1113.5 377.3 L1117.5 377.4 L1121.5 377.5 L1125.5 377.6 L1129.5 377.7 L1133.5 377.8 L1137.5 377.9 L1141.5 378.0 L1145.5 378.2 L1149.5 378.3 L1153.5 378.4 L1157.5 378.5 L1161.5 378.6 L1165.5 378.7 L1169.5 378.9 L1173.5 379.0 L1177.5 379.1 L1181.5 379.2 L1185.5 379.4 L1189.5 379.5 L1193.5 379.6 L1197.5 379.7 L1201.5 379.8 L1205.5 379.9 L1209.5 380.1 L1213.5 380.2 L1217.5 380.3 L1221.5 380.4 L1225.5 380.5 L1229.5 380.6 L1233.5 380.7 L1237.5 380.7 L1241.5 380.8 L1245.5 380.9 L1249.5 381.0 L1253.5 381.1 L1257.5 381.1 L1261.5 381.2 L1265.5 381.3 L1269.5 381.3 L1273.5 381.4 L1277.5 381.5 L1281.5 381.6 L1285.5 381.6 L1289.5 381.7 L1293.5 381.8 L1297.5 381.8 L1301.5 381.9 L1305.5 381.9 L1309.5 382.0 L1313.5 382.1 L1317.5 382.1 L1321.5 382.2 L1325.5 382.2 L1329.5 382.3 L1333.5 382.3 L1337.5 382.4 L1341.5 382.5 L1345.5 382.5 L1349.5 382.6 L1353.5 382.6 L1357.5 382.6 L1361.5 382.7 L1365.5 382.7 L1369.5 382.8 L1373.5 382.8 L1377.5 382.9 L1381.5 382.9 L1385.5 382.9 L1389.5 383.0 L1393.5 383.0 L1394.3 383.0" stroke="#d6338f"/>
<path d="M801.5 318.2 L805.5 319.1 L809.5 320.0 L813.5 320.9 L817.5 321.8 L821.5 322.7 L825.5 323.6 L829.5 324.5 L833.5 325.4 L837.5 326.3 L841.5 327.2 L845.5 328.1 L849.5 329.0 L853.5 329.9 L857.5 330.7 L861.5 331.6 L865.5 332.5 L869.5 333.4 L873.5 334.3 L877.5 335.2 L881.5 336.1 L885.5 337.0 L889.5 337.9 L893.5 338.8 L897.5 339.7 L901.5 340.6 L905.5 341.5 L909.5 342.4 L913.5 343.2 L917.5 344.1 L921.5 344.9 L925.5 345.8 L929.5 346.6 L933.5 347.4 L937.5 348.2 L941.5 349.0 L945.5 349.8 L949.5 350.6 L953.5 351.4 L957.5 352.1 L961.5 352.9 L965.5 353.6 L969.5 354.4 L973.5 355.1 L977.5 355.9 L981.5 356.6 L985.5 357.3 L989.5 358.0 L993.5 358.7 L997.5 359.4 L1001.5 360.1 L1005.5 360.8 L1009.5 361.5 L1013.5 362.2 L1017.5 362.9 L1021.5 363.6 L1025.5 364.3 L1029.5 364.9 L1033.5 365.6 L1037.5 366.2 L1041.5 366.8 L1045.5 367.4 L1049.5 368.0 L1053.5 368.5 L1057.5 369.0 L1061.5 369.5 L1065.5 370.0 L1069.5 370.4 L1073.5 370.8 L1077.5 371.3 L1081.5 371.7 L1085.5 372.0 L1089.5 372.4 L1093.5 372.8 L1097.5 373.1 L1101.5 373.5 L1105.5 373.9 L1109.5 374.2 L1113.5 374.6 L1117.5 375.0 L1121.5 375.4 L1125.5 375.8 L1129.5 376.2 L1133.5 376.5 L1137.5 376.9 L1141.5 377.2 L1145.5 377.6 L1149.5 377.9 L1153.5 378.1 L1157.5 378.4 L1161.5 378.6 L1165.5 378.8 L1169.5 379.0 L1173.5 379.1 L1177.5 379.3 L1181.5 379.5 L1185.5 379.7 L1189.5 379.8 L1193.5 380.0 L1197.5 380.1 L1201.5 380.3 L1205.5 380.4 L1209.5 380.5 L1213.5 380.6 L1217.5 380.8 L1221.5 380.9 L1225.5 381.0 L1229.5 381.1 L1233.5 381.2 L1237.5 381.3 L1241.5 381.3 L1245.5 381.4 L1249.5 381.5 L1253.5 381.6 L1257.5 381.6 L1261.5 381.7 L1265.5 381.8 L1269.5 381.8 L1273.5 381.9 L1277.5 381.9 L1281.5 382.0 L1285.5 382.1 L1289.5 382.1 L1293.5 382.2 L1297.5 382.2 L1301.5 382.3 L1305.5 382.3 L1309.5 382.4 L1313.5 382.4 L1317.5 382.5 L1321.5 382.5 L1325.5 382.6 L1329.5 382.6 L1333.5 382.7 L1337.5 382.7 L1341.5 382.7 L1345.5 382.8 L1349.5 382.8 L1353.5 382.8 L1357.5 382.9 L1361.5 382.9 L1365.5 382.9 L1369.5 382.9 L1373.5 383.0 L1377.5 383.0 L1381.5 383.0 L1385.5 383.0 L1389.5 383.0 L1393.5 383.0 L1394.3 383.0" stroke="#6abf4b" stroke-width="1.45"/>
<path d="M801.5 210.2 L805.5 212.5 L809.5 214.8 L813.5 217.1 L817.5 219.4 L821.5 221.7 L825.5 224.0 L829.5 226.3 L833.5 228.5 L837.5 230.8 L841.5 233.1 L845.5 235.3 L849.5 237.6 L853.5 239.8 L857.5 242.0 L861.5 244.2 L865.5 246.5 L869.5 248.7 L873.5 250.9 L877.5 253.1 L881.5 255.4 L885.5 257.6 L889.5 259.8 L893.5 262.0 L897.5 264.2 L901.5 266.3 L905.5 268.5 L909.5 270.6 L913.5 272.8 L917.5 274.9 L921.5 277.0 L925.5 279.0 L929.5 281.0 L933.5 283.1 L937.5 285.0 L941.5 287.0 L945.5 288.9 L949.5 290.9 L953.5 292.8 L957.5 294.7 L961.5 296.6 L965.5 298.4 L969.5 300.3 L973.5 302.1 L977.5 304.0 L981.5 305.8 L985.5 307.6 L989.5 309.4 L993.5 311.2 L997.5 313.1 L1001.5 314.9 L1005.5 316.7 L1009.5 318.5 L1013.5 320.4 L1017.5 322.2 L1021.5 324.0 L1025.5 325.8 L1029.5 327.6 L1033.5 329.3 L1037.5 331.0 L1041.5 332.6 L1045.5 334.3 L1049.5 335.8 L1053.5 337.4 L1057.5 338.9 L1061.5 340.4 L1065.5 342.0 L1069.5 343.5 L1073.5 344.9 L1077.5 346.4 L1081.5 347.8 L1085.5 349.1 L1089.5 350.5 L1093.5 351.7 L1097.5 353.0 L1101.5 354.1 L1105.5 355.2 L1109.5 356.3 L1113.5 357.3 L1117.5 358.3 L1121.5 359.3 L1125.5 360.2 L1129.5 361.1 L1133.5 362.0 L1137.5 362.9 L1141.5 363.7 L1145.5 364.5 L1149.5 365.3 L1153.5 366.0 L1157.5 366.8 L1161.5 367.4 L1165.5 368.1 L1169.5 368.7 L1173.5 369.3 L1177.5 369.9 L1181.5 370.5 L1185.5 371.0 L1189.5 371.6 L1193.5 372.1 L1197.5 372.6 L1201.5 373.1 L1205.5 373.6 L1209.5 374.1 L1213.5 374.5 L1217.5 375.0 L1221.5 375.4 L1225.5 375.7 L1229.5 376.1 L1233.5 376.4 L1237.5 376.8 L1241.5 377.1 L1245.5 377.3 L1249.5 377.6 L1253.5 377.9 L1257.5 378.1 L1261.5 378.4 L1265.5 378.6 L1269.5 378.8 L1273.5 379.0 L1277.5 379.2 L1281.5 379.4 L1285.5 379.6 L1289.5 379.8 L1293.5 380.0 L1297.5 380.2 L1301.5 380.4 L1305.5 380.5 L1309.5 380.7 L1313.5 380.9 L1317.5 381.0 L1321.5 381.2 L1325.5 381.3 L1329.5 381.5 L1333.5 381.6 L1337.5 381.7 L1341.5 381.9 L1345.5 382.0 L1349.5 382.1 L1353.5 382.2 L1357.5 382.3 L1361.5 382.4 L1365.5 382.5 L1369.5 382.6 L1373.5 382.6 L1377.5 382.7 L1381.5 382.8 L1385.5 382.9 L1389.5 382.9 L1393.5 383.0 L1394.3 383.0" stroke="#2e3192" stroke-width="1.45"/>
<path d="M801.5 116.3 L805.5 120.3 L809.5 124.3 L813.5 128.2 L817.5 132.2 L821.5 136.2 L825.5 140.1 L829.5 144.1 L833.5 148.0 L837.5 152.0 L841.5 155.9 L845.5 159.9 L849.5 163.8 L853.5 167.8 L857.5 171.7 L861.5 175.6 L865.5 179.6 L869.5 183.5 L873.5 187.4 L877.5 191.3 L881.5 195.1 L885.5 199.0 L889.5 202.9 L893.5 206.8 L897.5 210.6 L901.5 214.5 L905.5 218.4 L909.5 222.3 L913.5 226.2 L917.5 230.1 L921.5 234.0 L925.5 238.0 L929.5 242.0 L933.5 246.0 L937.5 250.1 L941.5 254.2 L945.5 258.3 L949.5 262.5 L953.5 266.6 L957.5 270.8 L961.5 275.0 L965.5 279.2 L969.5 283.4 L973.5 287.6 L977.5 291.7 L981.5 295.9 L985.5 300.0 L989.5 304.1 L993.5 308.2 L997.5 312.2 L1001.5 316.3 L1005.5 320.5 L1009.5 324.9 L1013.5 329.4 L1017.5 333.9 L1021.5 338.4 L1025.5 342.8 L1029.5 347.2 L1033.5 351.4 L1037.5 355.5 L1041.5 359.3 L1045.5 362.9 L1049.5 366.1 L1053.5 369.0 L1057.5 371.5 L1061.5 373.6 L1065.5 375.4 L1069.5 376.2 L1073.5 376.7 L1077.5 377.1 L1081.5 377.5 L1085.5 377.8 L1089.5 378.1 L1093.5 378.4 L1097.5 378.6 L1101.5 378.8 L1105.5 379.0 L1109.5 379.1 L1113.5 379.3 L1117.5 379.4 L1121.5 379.6 L1125.5 379.7 L1129.5 379.8 L1133.5 380.0 L1137.5 380.1 L1141.5 380.2 L1145.5 380.4 L1149.5 380.5 L1153.5 380.6 L1157.5 380.7 L1161.5 380.8 L1165.5 380.9 L1169.5 381.0 L1173.5 381.1 L1177.5 381.1 L1181.5 381.2 L1185.5 381.3 L1189.5 381.3 L1193.5 381.4 L1197.5 381.5 L1201.5 381.5 L1205.5 381.6 L1209.5 381.6 L1213.5 381.7 L1217.5 381.7 L1221.5 381.8 L1225.5 381.8 L1229.5 381.9 L1233.5 381.9 L1237.5 382.0 L1241.5 382.0 L1245.5 382.0 L1249.5 382.1 L1253.5 382.1 L1257.5 382.2 L1261.5 382.2 L1265.5 382.3 L1269.5 382.3 L1273.5 382.3 L1277.5 382.4 L1281.5 382.4 L1285.5 382.5 L1289.5 382.5 L1293.5 382.5 L1297.5 382.6 L1301.5 382.6 L1305.5 382.6 L1309.5 382.7 L1313.5 382.7 L1317.5 382.7 L1321.5 382.7 L1325.5 382.8 L1329.5 382.8 L1333.5 382.8 L1337.5 382.8 L1341.5 382.9 L1345.5 382.9 L1349.5 382.9 L1353.5 382.9 L1357.5 382.9 L1361.5 382.9 L1365.5 383.0 L1369.5 383.0 L1373.5 383.0 L1377.5 383.0 L1381.5 383.0 L1385.5 383.0 L1389.5 383.0 L1393.5 383.0 L1394.3 383.0" stroke="#58c090" stroke-width="1.45"/>
<path d="M801.5 51.0 L805.5 55.4 L809.5 59.8 L813.5 64.2 L817.5 68.6 L821.5 73.0 L825.5 77.4 L829.5 81.8 L833.5 86.2 L837.5 90.6 L841.5 94.9 L845.5 99.3 L849.5 103.7 L853.5 108.0 L857.5 112.4 L861.5 116.7 L865.5 121.1 L869.5 125.4 L873.5 129.7 L877.5 134.0 L881.5 138.3 L885.5 142.7 L889.5 147.0 L893.5 151.3 L897.5 155.6 L901.5 159.9 L905.5 164.3 L909.5 168.6 L913.5 173.0 L917.5 177.4 L921.5 181.7 L925.5 186.1 L929.5 190.4 L933.5 194.7 L937.5 199.0 L941.5 203.3 L945.5 207.5 L949.5 211.8 L953.5 216.0 L957.5 220.1 L961.5 224.3 L965.5 228.3 L969.5 232.4 L973.5 236.4 L977.5 240.3 L981.5 244.2 L985.5 248.0 L989.5 251.9 L993.5 255.6 L997.5 259.4 L1001.5 263.1 L1005.5 266.8 L1009.5 270.5 L1013.5 274.1 L1017.5 277.7 L1021.5 281.3 L1025.5 284.9 L1029.5 288.4 L1033.5 292.0 L1037.5 295.5 L1041.5 299.0 L1045.5 302.4 L1049.5 305.9 L1053.5 309.3 L1057.5 312.8 L1061.5 316.2 L1065.5 319.7 L1069.5 323.1 L1073.5 326.5 L1077.5 329.8 L1081.5 333.2 L1085.5 336.4 L1089.5 339.7 L1093.5 342.8 L1097.5 346.0 L1101.5 349.0 L1105.5 352.0 L1109.5 354.9 L1113.5 357.9 L1117.5 360.9 L1121.5 363.9 L1125.5 366.7 L1129.5 369.4 L1133.5 371.8 L1137.5 373.9 L1141.5 375.7 L1145.5 377.4 L1149.5 378.4 L1153.5 378.8 L1157.5 379.1 L1161.5 379.3 L1165.5 379.5 L1169.5 379.7 L1173.5 379.8 L1177.5 380.0 L1181.5 380.1 L1185.5 380.2 L1189.5 380.3 L1193.5 380.3 L1197.5 380.4 L1201.5 380.5 L1205.5 380.6 L1209.5 380.7 L1213.5 380.8 L1217.5 380.9 L1221.5 381.0 L1225.5 381.1 L1229.5 381.2 L1233.5 381.3 L1237.5 381.3 L1241.5 381.4 L1245.5 381.5 L1249.5 381.6 L1253.5 381.6 L1257.5 381.7 L1261.5 381.7 L1265.5 381.8 L1269.5 381.9 L1273.5 381.9 L1277.5 382.0 L1281.5 382.0 L1285.5 382.1 L1289.5 382.1 L1293.5 382.2 L1297.5 382.2 L1301.5 382.3 L1305.5 382.3 L1309.5 382.3 L1313.5 382.4 L1317.5 382.4 L1321.5 382.5 L1325.5 382.5 L1329.5 382.6 L1333.5 382.6 L1337.5 382.6 L1341.5 382.7 L1345.5 382.7 L1349.5 382.7 L1353.5 382.8 L1357.5 382.8 L1361.5 382.8 L1365.5 382.9 L1369.5 382.9 L1373.5 382.9 L1377.5 382.9 L1381.5 383.0 L1385.5 383.0 L1389.5 383.0 L1393.5 383.0 L1394.3 383.0" stroke="#b6d320" stroke-width="1.45"/>
<path d="M801.5 375.5 L809.5 375.7 L817.5 375.8 L825.5 376.0 L833.5 376.1 L841.5 376.3 L849.5 376.4 L857.5 376.6 L865.5 376.7 L873.5 376.9 L881.5 377.0 L889.5 377.1 L897.5 377.3 L905.5 377.4 L913.5 377.5 L921.5 377.7 L929.5 377.8 L937.5 377.9 L945.5 378.1 L953.5 378.2 L961.5 378.3 L969.5 378.5 L977.5 378.6 L985.5 378.7 L993.5 378.8 L1001.5 379.0 L1009.5 379.1 L1017.5 379.2 L1025.5 379.3 L1033.5 379.4 L1041.5 379.5 L1049.5 379.6 L1057.5 379.8 L1065.5 379.9 L1073.5 380.0 L1081.5 380.1 L1089.5 380.2 L1097.5 380.3 L1105.5 380.4 L1113.5 380.5 L1121.5 380.6 L1129.5 380.7 L1137.5 380.8 L1145.5 380.9 L1153.5 380.9 L1161.5 381.0 L1169.5 381.1 L1177.5 381.2 L1185.5 381.3 L1193.5 381.4 L1201.5 381.5 L1209.5 381.5 L1217.5 381.6 L1225.5 381.7 L1233.5 381.8 L1241.5 381.9 L1249.5 381.9 L1257.5 382.0 L1265.5 382.1 L1273.5 382.1 L1281.5 382.2 L1289.5 382.3 L1297.5 382.3 L1305.5 382.4 L1313.5 382.5 L1321.5 382.5 L1329.5 382.6 L1337.5 382.6 L1345.5 382.7 L1353.5 382.7 L1361.5 382.8 L1369.5 382.9 L1377.5 382.9 L1385.5 382.9 L1393.5 383.0 L1394.3 383.0" stroke="#45b5e8"/>
<path d="M801.5 391.5 L809.5 391.3 L817.5 391.1 L825.5 391.0 L833.5 390.8 L841.5 390.6 L849.5 390.5 L857.5 390.3 L865.5 390.1 L873.5 390.0 L881.5 389.8 L889.5 389.6 L897.5 389.5 L905.5 389.3 L913.5 389.2 L921.5 389.0 L929.5 388.9 L937.5 388.7 L945.5 388.6 L953.5 388.4 L961.5 388.3 L969.5 388.1 L977.5 388.0 L985.5 387.9 L993.5 387.7 L1001.5 387.6 L1009.5 387.5 L1017.5 387.3 L1025.5 387.2 L1033.5 387.1 L1041.5 386.9 L1049.5 386.8 L1057.5 386.7 L1065.5 386.6 L1073.5 386.4 L1081.5 386.3 L1089.5 386.2 L1097.5 386.1 L1105.5 386.0 L1113.5 385.9 L1121.5 385.8 L1129.5 385.6 L1137.5 385.5 L1145.5 385.4 L1153.5 385.3 L1161.5 385.2 L1169.5 385.1 L1177.5 385.0 L1185.5 384.9 L1193.5 384.8 L1201.5 384.7 L1209.5 384.6 L1217.5 384.6 L1225.5 384.5 L1233.5 384.4 L1241.5 384.3 L1249.5 384.2 L1257.5 384.1 L1265.5 384.1 L1273.5 384.0 L1281.5 383.9 L1289.5 383.8 L1297.5 383.7 L1305.5 383.7 L1313.5 383.6 L1321.5 383.5 L1329.5 383.5 L1337.5 383.4 L1345.5 383.3 L1353.5 383.3 L1361.5 383.2 L1369.5 383.2 L1377.5 383.1 L1385.5 383.1 L1393.5 383.0 L1394.3 383.0" stroke="#8d4fa8"/>
<path d="M801.5 377.0 L809.5 377.1 L817.5 377.2 L825.5 377.4 L833.5 377.5 L841.5 377.6 L849.5 377.7 L857.5 377.8 L865.5 378.0 L873.5 378.1 L881.5 378.2 L889.5 378.3 L897.5 378.4 L905.5 378.5 L913.5 378.6 L921.5 378.7 L929.5 378.9 L937.5 379.0 L945.5 379.1 L953.5 379.2 L961.5 379.3 L969.5 379.4 L977.5 379.5 L985.5 379.6 L993.5 379.7 L1001.5 379.8 L1009.5 379.9 L1017.5 380.0 L1025.5 380.0 L1033.5 380.1 L1041.5 380.2 L1049.5 380.3 L1057.5 380.4 L1065.5 380.5 L1073.5 380.6 L1081.5 380.7 L1089.5 380.7 L1097.5 380.8 L1105.5 380.9 L1113.5 381.0 L1121.5 381.1 L1129.5 381.1 L1137.5 381.2 L1145.5 381.3 L1153.5 381.4 L1161.5 381.4 L1169.5 381.5 L1177.5 381.6 L1185.5 381.6 L1193.5 381.7 L1201.5 381.8 L1209.5 381.8 L1217.5 381.9 L1225.5 382.0 L1233.5 382.0 L1241.5 382.1 L1249.5 382.1 L1257.5 382.2 L1265.5 382.3 L1273.5 382.3 L1281.5 382.4 L1289.5 382.4 L1297.5 382.5 L1305.5 382.5 L1313.5 382.6 L1321.5 382.6 L1329.5 382.7 L1337.5 382.7 L1345.5 382.8 L1353.5 382.8 L1361.5 382.8 L1369.5 382.9 L1377.5 382.9 L1385.5 383.0 L1393.5 383.0 L1394.3 383.0" stroke="#d6338f"/>
<path d="M801.5 390.3 L809.5 390.1 L817.5 390.0 L825.5 389.8 L833.5 389.7 L841.5 389.6 L849.5 389.4 L857.5 389.3 L865.5 389.1 L873.5 389.0 L881.5 388.8 L889.5 388.7 L897.5 388.6 L905.5 388.4 L913.5 388.3 L921.5 388.2 L929.5 388.0 L937.5 387.9 L945.5 387.8 L953.5 387.7 L961.5 387.5 L969.5 387.4 L977.5 387.3 L985.5 387.2 L993.5 387.1 L1001.5 386.9 L1009.5 386.8 L1017.5 386.7 L1025.5 386.6 L1033.5 386.5 L1041.5 386.4 L1049.5 386.3 L1057.5 386.2 L1065.5 386.1 L1073.5 386.0 L1081.5 385.9 L1089.5 385.8 L1097.5 385.7 L1105.5 385.6 L1113.5 385.5 L1121.5 385.4 L1129.5 385.3 L1137.5 385.2 L1145.5 385.1 L1153.5 385.0 L1161.5 384.9 L1169.5 384.8 L1177.5 384.7 L1185.5 384.7 L1193.5 384.6 L1201.5 384.5 L1209.5 384.4 L1217.5 384.3 L1225.5 384.3 L1233.5 384.2 L1241.5 384.1 L1249.5 384.0 L1257.5 384.0 L1265.5 383.9 L1273.5 383.8 L1281.5 383.8 L1289.5 383.7 L1297.5 383.6 L1305.5 383.6 L1313.5 383.5 L1321.5 383.5 L1329.5 383.4 L1337.5 383.4 L1345.5 383.3 L1353.5 383.2 L1361.5 383.2 L1369.5 383.1 L1377.5 383.1 L1385.5 383.0 L1393.5 383.0 L1394.3 383.0" stroke="#e8368f"/>
<path d="M801.5 379.5 L809.5 379.6 L817.5 379.6 L825.5 379.7 L833.5 379.8 L841.5 379.9 L849.5 379.9 L857.5 380.0 L865.5 380.1 L873.5 380.1 L881.5 380.2 L889.5 380.3 L897.5 380.3 L905.5 380.4 L913.5 380.5 L921.5 380.5 L929.5 380.6 L937.5 380.6 L945.5 380.7 L953.5 380.8 L961.5 380.8 L969.5 380.9 L977.5 380.9 L985.5 381.0 L993.5 381.1 L1001.5 381.1 L1009.5 381.2 L1017.5 381.2 L1025.5 381.3 L1033.5 381.3 L1041.5 381.4 L1049.5 381.4 L1057.5 381.5 L1065.5 381.5 L1073.5 381.6 L1081.5 381.6 L1089.5 381.7 L1097.5 381.7 L1105.5 381.8 L1113.5 381.8 L1121.5 381.9 L1129.5 381.9 L1137.5 382.0 L1145.5 382.0 L1153.5 382.0 L1161.5 382.1 L1169.5 382.1 L1177.5 382.2 L1185.5 382.2 L1193.5 382.2 L1201.5 382.3 L1209.5 382.3 L1217.5 382.4 L1225.5 382.4 L1233.5 382.4 L1241.5 382.5 L1249.5 382.5 L1257.5 382.5 L1265.5 382.6 L1273.5 382.6 L1281.5 382.6 L1289.5 382.7 L1297.5 382.7 L1305.5 382.7 L1313.5 382.7 L1321.5 382.8 L1329.5 382.8 L1337.5 382.8 L1345.5 382.9 L1353.5 382.9 L1361.5 382.9 L1369.5 382.9 L1377.5 383.0 L1385.5 383.0 L1393.5 383.0 L1394.3 383.0" stroke="#e0305a"/>
<path d="M801.5 389.6 L809.5 389.5 L817.5 389.3 L825.5 389.2 L833.5 389.1 L841.5 388.9 L849.5 388.8 L857.5 388.7 L865.5 388.5 L873.5 388.4 L881.5 388.3 L889.5 388.2 L897.5 388.0 L905.5 387.9 L913.5 387.8 L921.5 387.7 L929.5 387.6 L937.5 387.4 L945.5 387.3 L953.5 387.2 L961.5 387.1 L969.5 387.0 L977.5 386.9 L985.5 386.8 L993.5 386.7 L1001.5 386.6 L1009.5 386.5 L1017.5 386.4 L1025.5 386.3 L1033.5 386.2 L1041.5 386.1 L1049.5 386.0 L1057.5 385.9 L1065.5 385.8 L1073.5 385.7 L1081.5 385.6 L1089.5 385.5 L1097.5 385.4 L1105.5 385.3 L1113.5 385.2 L1121.5 385.1 L1129.5 385.1 L1137.5 385.0 L1145.5 384.9 L1153.5 384.8 L1161.5 384.7 L1169.5 384.6 L1177.5 384.6 L1185.5 384.5 L1193.5 384.4 L1201.5 384.3 L1209.5 384.3 L1217.5 384.2 L1225.5 384.1 L1233.5 384.1 L1241.5 384.0 L1249.5 383.9 L1257.5 383.9 L1265.5 383.8 L1273.5 383.8 L1281.5 383.7 L1289.5 383.6 L1297.5 383.6 L1305.5 383.5 L1313.5 383.5 L1321.5 383.4 L1329.5 383.4 L1337.5 383.3 L1345.5 383.3 L1353.5 383.2 L1361.5 383.2 L1369.5 383.1 L1377.5 383.1 L1385.5 383.0 L1393.5 383.0 L1394.3 383.0" stroke="#e0305a"/>
<path d="M801.5 383.0 L809.5 383.0 L817.5 383.0 L825.5 383.0 L833.5 383.0 L841.5 383.0 L849.5 383.0 L857.5 383.0 L865.5 383.0 L873.5 383.0 L881.5 383.0 L889.5 383.0 L897.5 383.0 L905.5 383.0 L913.5 383.0 L921.5 383.0 L929.5 383.0 L937.5 383.0 L945.5 383.0 L953.5 383.0 L961.5 383.0 L969.5 383.0 L977.5 383.0 L985.5 383.0 L993.5 383.0 L1001.5 383.0 L1009.5 383.0 L1017.5 383.0 L1025.5 383.0 L1033.5 383.0 L1041.5 383.0 L1049.5 383.0 L1057.5 383.0 L1065.5 383.0 L1073.5 383.0 L1081.5 383.0 L1089.5 383.0 L1097.5 383.0 L1105.5 383.0 L1113.5 383.0 L1121.5 383.0 L1129.5 383.0 L1137.5 383.0 L1145.5 383.0 L1153.5 383.0 L1161.5 383.0 L1169.5 383.0 L1177.5 383.0 L1185.5 383.0 L1193.5 383.0 L1201.5 383.0 L1209.5 383.0 L1217.5 383.0 L1225.5 383.0 L1233.5 383.0 L1241.5 383.0 L1249.5 383.0 L1257.5 383.0 L1265.5 383.0 L1273.5 383.0 L1281.5 383.0 L1289.5 383.0 L1297.5 383.0 L1305.5 383.0 L1313.5 383.0 L1321.5 383.0 L1329.5 383.0 L1337.5 383.0 L1345.5 383.0 L1353.5 383.0 L1361.5 383.0 L1369.5 383.0 L1377.5 383.0 L1385.5 383.0 L1393.5 383.0 L1394.3 383.0" stroke="#e0305a"/>
</g>
<path d="M806 35.5 V462.5" stroke="#1a1a1a" stroke-width="1.5" stroke-dasharray="5 2.7" fill="none"/>
<rect x="778.4" y="35.5" width="640.3000000000001" height="427.0" fill="none" stroke="#808080" stroke-width="1.4"/>
<g stroke="#808080" stroke-width="1.3">
<path d="M772.9 456.0 H778.4"/>
<path d="M772.9 383.0 H778.4"/>
<path d="M772.9 310.0 H778.4"/>
<path d="M772.9 237.0 H778.4"/>
<path d="M772.9 164.0 H778.4"/>
<path d="M772.9 91.0 H778.4"/>
<path d="M808.5 462.5 V468.0"/>
<path d="M937.3 462.5 V468.0"/>
<path d="M1066.1 462.5 V468.0"/>
<path d="M1194.9 462.5 V468.0"/>
<path d="M1323.7 462.5 V468.0"/>
</g>
<g font-family='"Liberation Serif", "Noto Serif CJK SC", serif' fill="#000">
<text x="769.9" y="462.9" font-size="20.7" text-anchor="end">−0.5</text>
<text x="769.9" y="389.9" font-size="20.7" text-anchor="end">0.0</text>
<text x="769.9" y="316.9" font-size="20.7" text-anchor="end">0.5</text>
<text x="769.9" y="243.9" font-size="20.7" text-anchor="end">1.0</text>
<text x="769.9" y="170.9" font-size="20.7" text-anchor="end">1.5</text>
<text x="769.9" y="97.9" font-size="20.7" text-anchor="end">2.0</text>
<text x="807.9" y="486.9" font-size="20.4" text-anchor="middle">−8</text>
<text x="936.7" y="486.9" font-size="20.4" text-anchor="middle">−6</text>
<text x="1065.5" y="486.9" font-size="20.4" text-anchor="middle">−4</text>
<text x="1194.3" y="486.9" font-size="20.4" text-anchor="middle">−2</text>
<text x="1323.1" y="486.9" font-size="20.4" text-anchor="middle">0</text>
<text x="1070.2" y="508.6" font-size="25.2" text-anchor="middle">log (<tspan font-style="italic">λ</tspan>)</text>
<text transform="translate(736.5 249.6) rotate(-90)" font-size="17.8" text-anchor="middle" fill="#222">标准化系数</text>
<text x="1111.3" y="25.5" font-size="19.3" letter-spacing="1.7" text-anchor="middle" fill="#222">弹性网络正则化路径图</text>
<text x="1422" y="56.8" font-size="12.45" fill="#c9dc5a">左室心脏指数</text>
<text x="1422" y="120.5" font-size="12.45" fill="#8fd0b0">右室心脏指数</text>
<text x="1422" y="215.3" font-size="12.45" fill="#6a6bb5">左室中部纵向应变</text>
<text x="1422" y="246.7" font-size="12.45" fill="#8cc97a">舒张末期最大壁厚</text>
<text x="1422" y="260.1" font-size="12.45" fill="#b5e3e6">左室基底部径向应变</text>
<text x="1422" y="271.2" font-size="12.45" fill="#7560a8">右室中部纵向应变</text>
<text x="1422" y="284.1" font-size="12.45" fill="#5a64b0">左室中部周向应变</text>
<text x="1422" y="298.3" font-size="12.45" fill="#ee5a4f">右室整体纵向应变</text>
<text x="1422" y="310.6" font-size="12.45" fill="#8ecbee">右室基底部径向应变</text>
<text x="1422" y="323.5" font-size="12.45" fill="#b060b0">左室整体径向应变</text>
<text x="1422" y="335.3" font-size="12.45" fill="#3d4a9c">右室中部径向应变</text>
<text x="1422" y="349.3" font-size="12.45" fill="#fbe870">左室射血分数</text>
<text x="1422" y="361.3" font-size="12.45" fill="#a070b8">左室心尖部周向应变</text>
<text x="1422" y="375.6" font-size="12.45" fill="#8ccf78">左室每搏输出量指数</text>
<text x="1422" y="387.9" font-size="12.45" fill="#e0489a">左室整体周向应变</text>
<text x="1422" y="401.3" font-size="12.45" fill="#4fb4e8">左室基底部纵向应变</text>
<text x="1422" y="414.3" font-size="12.45" fill="#8050a8">左室心尖部纵向应变</text>
<text x="1422" y="427.1" font-size="12.45" fill="#ea5090">左室整体纵向应变</text>
<text x="1422" y="438.7" font-size="12.45" fill="#f5f29a">左室心输出量</text>
<text x="1422" y="452.1" font-size="12.45" fill="#a8dcd4">右室每搏输出量指数</text>
</g>
<clipPath id="rc"><rect x="1592.0" y="12.65" width="457.1500000000001" height="457.95000000000005"/></clipPath>
<g fill="none" stroke-width="2.4" stroke-linejoin="round" clip-path="url(#rc)">
<path d="M1592.0 470.6 L1592.2 428.0 L1593.3 416.6 L1594.3 403.7 L1596.0 390.8 L1598.3 379.7 L1600.7 369.6 L1603.4 357.6 L1606.2 346.6 L1609.2 334.5 L1616.0 308.3 L1623.7 287.6 L1631.4 267.0 L1640.4 246.4 L1649.4 225.8 L1659.5 200.0 L1665.8 181.2 L1672.2 165.7 L1678.7 156.7 L1691.6 145.0 L1701.9 137.3 L1709.6 128.3 L1717.3 116.7 L1725.0 106.4 L1735.4 93.5 L1748.3 78.0 L1761.2 70.3 L1770.0 65.7 L1782.9 60.6 L1795.8 52.8 L1808.7 46.4 L1821.6 42.0 L1834.5 38.2 L1847.3 33.5 L1860.2 29.1 L1873.1 26.8 L1886.0 24.7 L1898.9 23.2 L1918.4 21.2 L1949.7 18.0 L1982.9 16.6 L2010.5 14.7 L2025.2 13.8 L2030.0 13.4" stroke="#2c9fde" stroke-width="3.0" stroke-linejoin="round"/>
<path d="M1592.0 470.6 L1592.0 271.3 L1608.3 271.3 L1608.3 189.2 L1624.6 189.2 L1624.6 177.5 L1640.9 177.5 L1640.9 142.4 L1657.2 142.4 L1657.2 130.6 L1706.1 130.6 L1706.1 107.2 L1722.4 107.2 L1722.4 60.3 L1755.0 60.3 L1755.0 48.6 L1787.6 48.6 L1787.6 13.4 L2048.4 13.4" stroke="#d4528f"/>
<path d="M1592.0 470.6 L1592.0 376.8 L1608.3 376.8 L1608.3 341.6 L1624.6 329.9 L1640.9 329.9 L1640.9 306.5 L1673.5 306.5 L1673.5 271.3 L1706.1 271.3 L1706.1 236.1 L1722.4 236.1 L1722.4 224.4 L1755.0 224.4 L1755.0 212.7 L1787.6 212.7 L1787.6 177.5 L1836.5 177.5 L1836.5 142.4 L1852.8 130.6 L1852.8 83.7 L1885.4 83.7 L1885.4 72.0 L1901.7 72.0 L1901.7 48.6 L1934.3 48.6 L1934.3 36.8 L1950.6 36.8 L1950.6 13.4 L2048.4 13.4" stroke="#9e9b12"/>
<path d="M1592.0 470.6 L1592.0 412.0 L1624.6 412.0 L1624.6 259.6 L1640.9 259.6 L1640.9 224.4 L1673.5 224.4 L1673.5 189.2 L1689.8 189.2 L1689.8 165.8 L1706.1 165.8 L1706.1 154.1 L1722.4 154.1 L1722.4 130.6 L1738.7 130.6 L1738.7 107.2 L1771.3 107.2 L1771.3 72.0 L1787.6 72.0 L1787.6 60.3 L1803.9 60.3 L1803.9 36.8 L1820.2 36.8 L1820.2 25.1 L1852.8 25.1 L1852.8 13.4 L2048.4 13.4" stroke="#25aa68"/>
<path d="M1592.0 470.6 L1592.0 353.4 L1608.3 353.4 L1608.3 306.5 L1624.6 306.5 L1624.6 271.3 L1657.2 271.3 L1657.2 236.1 L1673.5 236.1 L1673.5 201.0 L1706.1 201.0 L1706.1 189.2 L1722.4 189.2 L1722.4 107.2 L1771.3 107.2 L1771.3 95.5 L1787.6 95.5 L1787.6 72.0 L1820.2 72.0 L1820.2 60.3 L1918.0 60.3 L1918.0 36.8 L1966.9 36.8 L1966.9 25.1 L2015.8 25.1 L2015.8 13.4 L2048.4 13.4" stroke="#7f7cb9"/>
</g>
<path d="M1592.0 470.6 L2048.4 13.4" stroke="#111" stroke-width="1.5" stroke-dasharray="7.6 6.2" stroke-dashoffset="1.2" fill="none"/>
<rect x="1592.0" y="13.4" width="456.4" height="457.2" fill="none" stroke="#333" stroke-width="1.6"/>
<g stroke="#222" stroke-width="1.3">
<path d="M1588.8 470.6 H1592.0"/>
<path d="M1588.8 424.9 H1592.0"/>
<path d="M1588.8 379.2 H1592.0"/>
<path d="M1588.8 333.4 H1592.0"/>
<path d="M1588.8 287.7 H1592.0"/>
<path d="M1588.8 242.0 H1592.0"/>
<path d="M1588.8 196.3 H1592.0"/>
<path d="M1588.8 150.6 H1592.0"/>
<path d="M1588.8 104.8 H1592.0"/>
<path d="M1588.8 59.1 H1592.0"/>
<path d="M1588.8 13.4 H1592.0"/>
<path d="M1592.0 470.6 V473.6"/>
<path d="M1683.3 470.6 V473.6"/>
<path d="M1774.6 470.6 V473.6"/>
<path d="M1865.8 470.6 V473.6"/>
<path d="M1957.1 470.6 V473.6"/>
<path d="M2048.4 470.6 V473.6"/>
</g>
<g font-family='"Liberation Serif", "Noto Serif CJK SC", serif' fill="#000">
<text x="1587.2" y="475.7" font-size="20.2" text-anchor="end">0.0</text>
<text x="1587.2" y="431.5" font-size="20.2" text-anchor="end">0.1</text>
<text x="1587.2" y="385.8" font-size="20.2" text-anchor="end">0.2</text>
<text x="1587.2" y="340.0" font-size="20.2" text-anchor="end">0.3</text>
<text x="1587.2" y="294.3" font-size="20.2" text-anchor="end">0.4</text>
<text x="1587.2" y="248.6" font-size="20.2" text-anchor="end">0.5</text>
<text x="1587.2" y="202.9" font-size="20.2" text-anchor="end">0.6</text>
<text x="1587.2" y="157.2" font-size="20.2" text-anchor="end">0.7</text>
<text x="1587.2" y="111.4" font-size="20.2" text-anchor="end">0.8</text>
<text x="1587.2" y="65.7" font-size="20.2" text-anchor="end">0.9</text>
<text x="1587.2" y="15.6" font-size="20.2" text-anchor="end">1.0</text>
<text x="1592.3" y="489.9" font-size="20.5" text-anchor="middle">0.0</text>
<text x="1683.6" y="489.9" font-size="20.5" text-anchor="middle">0.2</text>
<text x="1774.9" y="489.9" font-size="20.5" text-anchor="middle">0.4</text>
<text x="1866.1" y="489.9" font-size="20.5" text-anchor="middle">0.6</text>
<text x="1957.4" y="489.9" font-size="20.5" text-anchor="middle">0.8</text>
<text x="2048.7" y="489.9" font-size="20.5" text-anchor="middle">1.0</text>
<text x="1825.7" y="513.3" font-size="20.85" text-anchor="middle">1-Specificity</text>
<text transform="translate(1553 238.3) rotate(-90)" font-size="20.8" text-anchor="middle">Sensitivity</text>
<path d="M1679.2 395.8 H1698.5" stroke="#2c9fde" stroke-width="2.7"/>
<text x="1703" y="400.7" font-size="16" textLength="319.4" lengthAdjust="spacingAndGlyphs">ElasticNet AUC (95% <tspan font-style="italic">CI</tspan>): 0.832 (0.822~0.842)</text>
<path d="M1679.2 410.5 H1698.5" stroke="#d4528f" stroke-width="2.7"/>
<text x="1703" y="415.4" font-size="16" textLength="340.6" lengthAdjust="spacingAndGlyphs">Multivariable AUC (95% <tspan font-style="italic">CI</tspan>): 0.896 (0.823~0.968)</text>
<path d="M1679.2 425.6 H1698.5" stroke="#9e9b12" stroke-width="2.7"/>
<text x="1703" y="430.5" font-size="16" textLength="303.4" lengthAdjust="spacingAndGlyphs">RVSVI AUC(95% <tspan font-style="italic">CI</tspan>): : 0.683 (0.555~0.812)</text>
<path d="M1679.2 440.5 H1698.5" stroke="#25aa68" stroke-width="2.7"/>
<text x="1703" y="445.4" font-size="16" textLength="339.4" lengthAdjust="spacingAndGlyphs">LV-Mid-GLS AUC (95% <tspan font-style="italic">CI</tspan>): 0.813 (0.705~0.922)</text>
<path d="M1679.2 455.6 H1698.5" stroke="#7f7cb9" stroke-width="2.7"/>
<text x="1703" y="460.5" font-size="16" textLength="340.6" lengthAdjust="spacingAndGlyphs">RV-Mid-GLS AUC (95% <tspan font-style="italic">CI</tspan>): 0.782 (0.671~0.893)</text>
</g>
</svg></body></html>
